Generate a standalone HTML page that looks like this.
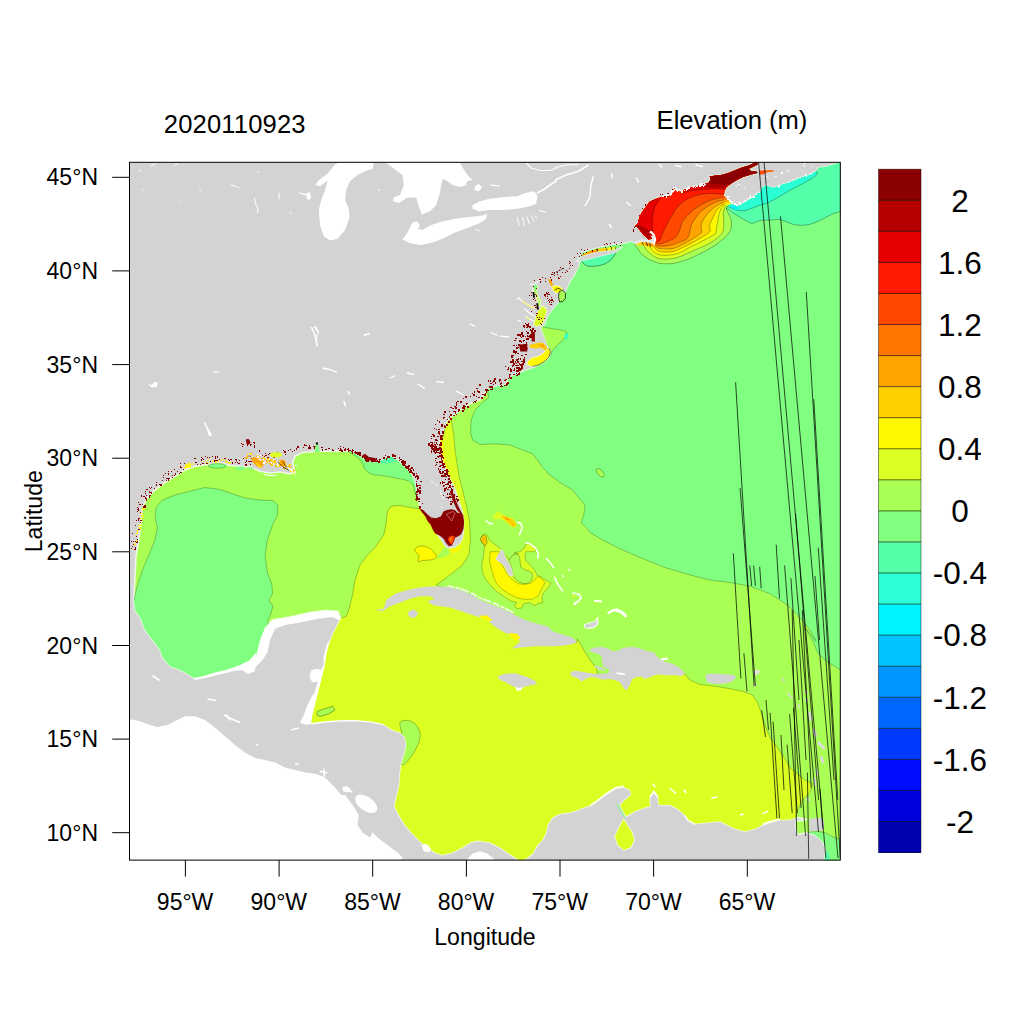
<!DOCTYPE html>
<html><head><meta charset="utf-8"><title>Elevation map</title>
<style>
html,body{margin:0;padding:0;background:#fff;}
body{width:1024px;height:1024px;overflow:hidden;}
svg{display:block;}
text{font-family:"Liberation Sans",sans-serif;fill:#000;}
</style></head><body>
<svg width="1024" height="1024" viewBox="0 0 1024 1024">
<rect width="1024" height="1024" fill="#fff"/>
<defs><clipPath id="fc"><rect x="129.5" y="162.3" width="710.8" height="697.8499999999999"/></clipPath></defs>
<g clip-path="url(#fc)">
<!-- 00_base.py -->
<rect x="120" y="150" width="730" height="720" fill="#fff"/>
<!-- 10_ocean.py -->
<defs><clipPath id="oc"><polygon points="133.8,600.0 135.0,575.0 136.2,555.0 138.8,540.0 141.2,520.0 142.5,507.5 147.5,497.5 155.0,490.0 165.0,482.5 175.0,476.2 185.0,470.0 195.0,466.2 207.5,464.5 220.0,462.5 230.0,465.5 240.0,466.2 250.0,467.0 260.0,471.2 270.0,473.0 280.0,472.0 290.0,473.8 295.0,472.5 292.5,462.5 295.0,456.2 302.5,452.5 317.5,451.2 332.5,451.2 347.5,451.2 340.0,450.0 350.0,451.2 360.0,456.2 367.5,461.2 375.0,462.5 382.5,460.0 390.0,456.2 397.5,460.0 405.0,467.5 411.2,473.8 415.0,482.5 416.2,491.2 418.8,500.0 420.0,507.5 423.8,513.8 428.8,520.0 432.5,527.5 436.2,533.8 440.0,538.8 443.8,545.0 447.5,548.8 455.0,547.5 460.0,543.8 463.0,538.8 464.2,530.0 464.2,520.0 462.5,510.0 460.0,502.5 457.5,495.0 455.0,487.5 451.2,480.0 447.5,472.5 443.8,462.5 441.2,452.5 440.0,442.5 442.5,432.5 446.2,423.8 450.0,417.5 457.5,412.5 465.0,406.2 475.0,401.2 480.0,400.0 485.0,392.5 488.8,388.8 497.5,386.2 505.0,385.0 510.0,377.5 517.5,373.8 527.5,370.0 535.0,367.5 543.8,362.5 550.0,357.5 551.2,351.2 547.5,345.0 543.8,335.0 541.2,327.5 545.0,325.0 547.5,317.5 552.5,310.0 558.8,302.5 563.8,298.8 566.2,291.2 570.0,282.5 575.0,275.0 578.8,267.5 580.0,262.5 581.2,258.8 577.2,261.2 580.5,256.2 582.0,253.0 591.0,249.8 601.0,247.2 613.5,245.0 623.5,244.0 631.0,241.8 636.0,243.8 638.5,242.5 646.0,241.2 652.2,242.5 654.8,246.2 655.5,242.5 653.5,236.2 649.8,234.5 652.2,238.8 648.5,239.5 643.5,235.0 638.5,228.8 636.0,226.2 634.4,227.0 638.5,222.2 639.1,217.4 641.9,212.0 646.0,206.5 649.4,201.7 655.5,199.0 661.0,196.9 666.5,195.8 670.6,194.9 672.6,190.8 674.7,188.0 677.4,190.8 680.2,192.1 684.3,189.4 688.4,188.0 693.8,186.7 699.3,185.3 704.8,183.9 708.9,182.6 710.9,179.1 709.6,176.4 714.3,175.7 721.2,175.0 728.0,173.0 734.8,170.3 741.7,167.5 748.5,165.5 754.0,163.0 756.7,161.4 758.4,161.4 757.4,164.8 753.3,166.8 748.5,168.9 751.3,170.9 756.7,171.6 758.1,173.0 751.3,174.4 743.1,177.1 736.2,180.5 730.7,183.9 726.6,187.3 724.6,190.8 723.9,194.9 726.0,198.3 729.4,201.0 731.4,203.8 737.5,206.1 745.3,202.2 753.1,196.7 760.9,191.2 761.7,187.3 767.2,185.8 773.4,188.1 781.2,185.0 790.6,181.9 800.0,178.0 809.4,174.8 815.6,171.7 818.8,167.8 825.0,167.0 832.8,164.7 841.4,162.2 850.0,163.0 850.0,870.0 823.8,863.8 826.2,850.0 822.5,841.2 815.0,835.0 807.5,832.5 797.5,834.5 795.5,827.5 795.5,821.2 805.0,820.0 806.5,819.2 797.5,817.5 790.0,819.5 780.0,820.0 770.0,822.5 762.5,825.0 755.0,828.8 745.0,831.2 735.0,828.8 727.5,825.0 720.0,821.2 707.5,822.5 695.0,823.8 687.5,820.0 685.0,815.0 677.5,808.8 670.0,805.0 658.8,805.0 658.0,797.5 653.8,792.0 649.5,797.5 650.0,806.2 645.0,807.5 635.0,811.2 626.2,816.2 623.8,812.5 620.0,805.0 625.0,800.0 631.2,795.0 630.0,790.0 623.8,787.0 615.0,788.8 605.0,795.0 597.5,801.2 590.0,806.2 587.5,806.2 577.5,810.0 570.0,812.5 560.0,813.8 552.5,817.5 547.5,825.0 546.2,832.5 542.5,840.0 537.5,845.0 532.5,853.8 525.0,859.5 520.0,860.5 515.0,857.5 507.5,852.5 500.0,847.5 490.0,842.5 477.5,840.5 470.0,842.5 462.5,847.5 452.5,852.5 442.5,855.0 435.0,852.5 427.5,847.5 420.0,841.2 412.5,833.8 405.0,825.0 398.8,815.0 394.5,806.2 397.0,795.0 399.5,785.0 400.0,775.0 401.2,765.0 403.8,756.2 406.2,747.5 405.5,737.5 400.0,732.5 392.5,730.0 382.5,723.8 370.0,721.2 355.0,720.0 340.0,720.0 325.0,721.2 311.2,723.0 312.5,715.0 315.0,705.0 317.5,695.0 320.0,685.0 322.5,675.0 325.0,665.0 326.2,655.0 328.8,645.0 332.5,635.0 340.0,620.0 341.2,617.5 337.5,611.2 325.0,610.5 310.0,612.5 290.0,617.0 272.5,620.0 265.0,627.5 260.0,640.0 256.2,656.0 256.2,652.5 250.0,660.0 240.0,665.0 227.5,669.5 215.0,672.5 202.5,676.2 193.8,678.0 187.5,673.8 180.0,670.0 170.0,666.2 162.5,657.5 160.0,650.0 152.5,640.0 145.0,630.0 141.2,620.0 140.0,617.5 135.0,610.0"/></clipPath></defs>
<rect x="120" y="150" width="730" height="720" fill="#D3D3D3"/>
<polygon points="193.8,678.5 195.0,680.0 205.0,678.0 220.0,674.5 232.5,671.2 242.5,670.0 247.5,673.8 253.8,671.2 256.2,666.2 262.5,660.0 267.5,652.5 270.0,640.0 275.0,628.8 285.0,625.0 300.0,622.5 317.5,618.8 332.5,617.0 337.5,619.5 339.5,620.5 339.0,620.0 338.0,627.5 332.5,636.8 327.0,643.8 325.2,650.0 323.5,657.5 323.8,665.0 321.0,670.0 317.5,668.8 311.2,670.0 309.5,677.5 312.5,682.5 318.0,681.5 316.5,685.5 314.8,692.5 312.0,696.2 307.5,705.0 303.8,715.0 300.0,722.5 306.2,725.0 311.2,724.0 330.0,715.0 347.0,640.0 342.0,604.0 262.0,606.0 250.0,650.0 215.0,668.0" fill="#fff" /><polyline points="311.2,723.8 325.0,722.2 340.0,721.0 355.0,719.8 370.0,721.0 340.0,720.8 355.0,720.8 370.0,722.0 382.5,724.5" fill="none" stroke="#fff" stroke-width="1.2" />
<polygon points="133.8,600.0 135.0,575.0 136.2,555.0 138.8,540.0 141.2,520.0 142.5,507.5 147.5,497.5 155.0,490.0 165.0,482.5 175.0,476.2 185.0,470.0 195.0,466.2 207.5,464.5 220.0,462.5 230.0,465.5 240.0,466.2 250.0,467.0 260.0,471.2 270.0,473.0 280.0,472.0 290.0,473.8 295.0,472.5 292.5,462.5 295.0,456.2 302.5,452.5 317.5,451.2 332.5,451.2 347.5,451.2 340.0,450.0 350.0,451.2 360.0,456.2 367.5,461.2 375.0,462.5 382.5,460.0 390.0,456.2 397.5,460.0 405.0,467.5 411.2,473.8 415.0,482.5 416.2,491.2 418.8,500.0 420.0,507.5 423.8,513.8 428.8,520.0 432.5,527.5 436.2,533.8 440.0,538.8 443.8,545.0 447.5,548.8 455.0,547.5 460.0,543.8 463.0,538.8 464.2,530.0 464.2,520.0 462.5,510.0 460.0,502.5 457.5,495.0 455.0,487.5 451.2,480.0 447.5,472.5 443.8,462.5 441.2,452.5 440.0,442.5 442.5,432.5 446.2,423.8 450.0,417.5 457.5,412.5 465.0,406.2 475.0,401.2 480.0,400.0 485.0,392.5 488.8,388.8 497.5,386.2 505.0,385.0 510.0,377.5 517.5,373.8 527.5,370.0 535.0,367.5 543.8,362.5 550.0,357.5 551.2,351.2 547.5,345.0 543.8,335.0 541.2,327.5 545.0,325.0 547.5,317.5 552.5,310.0 558.8,302.5 563.8,298.8 566.2,291.2 570.0,282.5 575.0,275.0 578.8,267.5 580.0,262.5 581.2,258.8 577.2,261.2 580.5,256.2 582.0,253.0 591.0,249.8 601.0,247.2 613.5,245.0 623.5,244.0 631.0,241.8 636.0,243.8 638.5,242.5 646.0,241.2 652.2,242.5 654.8,246.2 655.5,242.5 653.5,236.2 649.8,234.5 652.2,238.8 648.5,239.5 643.5,235.0 638.5,228.8 636.0,226.2 634.4,227.0 638.5,222.2 639.1,217.4 641.9,212.0 646.0,206.5 649.4,201.7 655.5,199.0 661.0,196.9 666.5,195.8 670.6,194.9 672.6,190.8 674.7,188.0 677.4,190.8 680.2,192.1 684.3,189.4 688.4,188.0 693.8,186.7 699.3,185.3 704.8,183.9 708.9,182.6 710.9,179.1 709.6,176.4 714.3,175.7 721.2,175.0 728.0,173.0 734.8,170.3 741.7,167.5 748.5,165.5 754.0,163.0 756.7,161.4 758.4,161.4 757.4,164.8 753.3,166.8 748.5,168.9 751.3,170.9 756.7,171.6 758.1,173.0 751.3,174.4 743.1,177.1 736.2,180.5 730.7,183.9 726.6,187.3 724.6,190.8 723.9,194.9 726.0,198.3 729.4,201.0 731.4,203.8 737.5,206.1 745.3,202.2 753.1,196.7 760.9,191.2 761.7,187.3 767.2,185.8 773.4,188.1 781.2,185.0 790.6,181.9 800.0,178.0 809.4,174.8 815.6,171.7 818.8,167.8 825.0,167.0 832.8,164.7 841.4,162.2 850.0,163.0 850.0,870.0 823.8,863.8 826.2,850.0 822.5,841.2 815.0,835.0 807.5,832.5 797.5,834.5 795.5,827.5 795.5,821.2 805.0,820.0 806.5,819.2 797.5,817.5 790.0,819.5 780.0,820.0 770.0,822.5 762.5,825.0 755.0,828.8 745.0,831.2 735.0,828.8 727.5,825.0 720.0,821.2 707.5,822.5 695.0,823.8 687.5,820.0 685.0,815.0 677.5,808.8 670.0,805.0 658.8,805.0 658.0,797.5 653.8,792.0 649.5,797.5 650.0,806.2 645.0,807.5 635.0,811.2 626.2,816.2 623.8,812.5 620.0,805.0 625.0,800.0 631.2,795.0 630.0,790.0 623.8,787.0 615.0,788.8 605.0,795.0 597.5,801.2 590.0,806.2 587.5,806.2 577.5,810.0 570.0,812.5 560.0,813.8 552.5,817.5 547.5,825.0 546.2,832.5 542.5,840.0 537.5,845.0 532.5,853.8 525.0,859.5 520.0,860.5 515.0,857.5 507.5,852.5 500.0,847.5 490.0,842.5 477.5,840.5 470.0,842.5 462.5,847.5 452.5,852.5 442.5,855.0 435.0,852.5 427.5,847.5 420.0,841.2 412.5,833.8 405.0,825.0 398.8,815.0 394.5,806.2 397.0,795.0 399.5,785.0 400.0,775.0 401.2,765.0 403.8,756.2 406.2,747.5 405.5,737.5 400.0,732.5 392.5,730.0 382.5,723.8 370.0,721.2 355.0,720.0 340.0,720.0 325.0,721.2 311.2,723.0 312.5,715.0 315.0,705.0 317.5,695.0 320.0,685.0 322.5,675.0 325.0,665.0 326.2,655.0 328.8,645.0 332.5,635.0 340.0,620.0 341.2,617.5 337.5,611.2 325.0,610.5 310.0,612.5 290.0,617.0 272.5,620.0 265.0,627.5 260.0,640.0 256.2,656.0 256.2,652.5 250.0,660.0 240.0,665.0 227.5,669.5 215.0,672.5 202.5,676.2 193.8,678.0 187.5,673.8 180.0,670.0 170.0,666.2 162.5,657.5 160.0,650.0 152.5,640.0 145.0,630.0 141.2,620.0 140.0,617.5 135.0,610.0" fill="#AAFF55" stroke="#fff" stroke-width="1.6" stroke-opacity="0.75" stroke-linejoin="round"/>
<g clip-path="url(#oc)">
<polygon points="487.5,390.0 488.8,397.5 482.5,402.5 475.0,410.0 471.2,420.0 470.5,432.5 472.5,440.0 480.0,444.5 495.0,443.8 510.0,445.0 522.5,450.0 532.5,453.8 537.5,460.0 542.5,467.5 550.0,475.0 560.0,482.5 572.5,490.0 585.0,505.0 583.8,515.0 581.2,522.5 587.5,528.8 590.0,532.5 602.5,540.0 620.0,548.8 640.0,557.5 665.0,567.5 690.0,575.0 710.0,580.0 730.0,582.5 750.0,586.2 770.0,593.8 787.5,605.0 800.0,617.5 810.0,630.0 816.2,641.2 805.0,627.5 812.5,640.0 817.5,652.5 825.0,660.0 832.5,665.0 842.5,671.2 870.0,672.0 870.0,140.0 540.0,140.0 470.0,380.0" fill="#80FF80" stroke="#1a3a00" stroke-opacity="0.65" stroke-width="0.45"/>
<polygon points="133.8,600.0 137.5,585.0 142.5,570.0 148.8,555.0 155.0,540.0 157.5,527.5 155.0,517.5 156.2,507.5 162.5,500.0 175.0,495.0 190.0,491.2 205.0,487.5 220.0,489.5 232.5,493.8 245.0,498.0 260.0,500.0 272.5,500.5 278.0,505.0 277.5,515.0 272.5,525.0 267.5,540.0 265.0,555.0 267.5,572.5 272.0,585.0 272.5,593.8 268.8,600.0 273.0,606.2 270.0,616.2 267.5,621.2 275.0,640.0 275.0,700.0 118.0,700.0 118.0,600.0" fill="#80FF80" stroke="#1a3a00" stroke-opacity="0.65" stroke-width="0.45"/>
<polygon points="342.5,618.0 346.2,616.2 348.8,610.0 352.5,595.0 355.0,580.0 360.0,565.0 367.5,555.0 375.0,547.5 383.8,535.0 386.2,522.5 387.5,511.2 391.2,506.2 400.0,505.5 410.0,507.5 418.8,508.8 435.0,475.0 446.2,422.5 451.2,418.8 453.8,435.0 455.0,450.0 458.8,475.0 465.0,500.0 469.5,520.0 470.5,540.0 468.8,555.0 462.5,565.0 450.0,575.0 436.2,585.0 465.0,597.5 490.0,612.5 515.0,625.0 540.0,635.0 565.0,641.2 576.2,643.0 577.5,638.8 583.8,650.0 590.0,660.0 593.8,665.0 596.0,666.2 597.5,673.8 627.5,677.0 652.5,670.0 685.0,673.8 690.0,680.0 700.0,684.5 710.0,685.5 720.0,687.0 730.0,688.8 742.5,691.2 752.5,695.0 757.5,702.5 761.2,712.5 765.0,725.0 770.0,737.5 777.5,747.5 785.0,758.8 790.0,767.5 797.5,773.8 805.0,780.0 812.5,783.8 810.0,792.5 802.5,800.0 797.5,810.0 795.0,820.0 795.0,880.0 300.0,880.0 300.0,730.0 308.0,700.0 318.0,660.0 327.0,630.0 337.0,612.0" fill="#DCFF23" stroke="#1a3a00" stroke-opacity="0.65" stroke-width="0.45"/>
<polygon points="807.5,832.5 815.0,831.2 825.0,832.5 833.8,837.5 842.5,840.0 842.5,863.8 805.0,863.8" fill="#80FF80" stroke="#1a3a00" stroke-opacity="0.65" stroke-width="0.45"/>
<polygon points="348.8,452.0 354.6,455.4 359.5,459.3 362.9,464.2 364.4,469.1 369.3,473.0 374.2,474.9 381.0,475.4 386.9,476.4 394.7,477.9 402.5,479.3 408.4,480.8 412.3,483.7 414.2,488.6 414.7,492.5 417.1,497.4 420.1,493.5 418.1,484.7 414.2,475.9 408.4,469.1 400.5,462.2 394.7,456.4 388.8,454.4 382.0,457.3 377.1,461.2 371.2,462.2 365.4,459.3 359.5,454.4 353.7,451.0 349.8,450.0" fill="#80FF80" stroke="#1a3a00" stroke-width="0.4" stroke-opacity="0.7"/>
<polygon points="379.1,462.7 383.9,459.3 387.9,457.8 391.3,456.6 395.2,458.8 396.2,461.4 390.8,462.4 384.9,463.2" fill="#55FFAA" />
<polygon points="415.2,493.5 417.1,497.4 419.6,501.3 421.1,498.4 418.1,494.5" fill="#55FFAA" />
<path d="M537.5,325.0 C538.1,324.5 541.2,326.4 543.8,327.0 C546.2,327.6 549.4,328.2 552.5,328.8 C555.6,329.3 560.1,329.8 562.5,330.5 C564.9,331.2 566.8,331.6 567.0,333.0 C567.2,334.4 565.3,336.8 563.8,338.8 C562.2,340.8 559.5,342.9 557.5,345.0 C555.5,347.1 553.2,349.5 552.0,351.2 C550.8,353.0 551.2,357.4 550.0,355.5 C548.8,353.6 546.7,344.2 545.0,340.0 C543.3,335.8 541.2,332.5 540.0,330.0 C538.8,327.5 536.9,325.5 537.5,325.0Z" fill="#AAFF55" stroke="#1a3a00" stroke-opacity="0.7" stroke-width="0.45"/>
<polygon points="565.0,333.0 568.0,334.5 567.0,339.5 564.5,338.0" fill="#2BFFD4" />
<polygon points="438.8,437.5 442.0,435.0 443.0,445.0 444.5,457.5 447.5,470.0 451.2,478.8 450.0,480.0 446.2,472.5 442.5,462.5 440.5,450.0" fill="#FFF800" />
<path d="M416.2,547.5 C417.5,546.6 420.2,545.8 422.5,546.0 C424.8,546.2 427.9,547.2 430.0,548.5 C432.1,549.8 433.9,552.0 435.0,553.5 C436.1,555.0 437.3,556.4 436.5,557.5 C435.7,558.6 432.3,559.5 430.0,560.0 C427.7,560.5 424.5,560.2 422.5,560.5 C420.5,560.8 418.6,562.3 418.0,561.5 C417.4,560.7 419.5,557.2 419.0,555.5 C418.5,553.8 415.5,552.8 415.0,551.5 C414.5,550.2 415.0,548.4 416.2,547.5Z" fill="#FFF800" stroke="#1a3a00" stroke-opacity="0.7" stroke-width="0.45"/>
<polygon points="436.2,558.0 442.5,550.0 445.0,546.2 448.0,549.5 450.0,553.0 446.2,556.2 440.0,558.0" fill="#AAFF55" />
<polygon points="450.0,550.0 457.5,547.5 461.2,544.5 460.0,550.0 453.8,553.0" fill="#FFF800" />
<polygon points="480.2,539.2 484.1,533.8 487.2,535.3 489.5,540.0 495.0,544.7 500.5,548.6 503.6,552.5 509.1,560.3 513.8,554.1 518.4,554.1 514.5,552.5 520.0,551.7 523.9,548.6 526.2,543.9 530.2,543.9 534.1,547.0 537.2,550.2 532.5,551.7 526.2,551.7 524.7,555.6 525.5,560.3 530.2,565.0 534.1,569.7 537.2,575.2 541.9,577.5 546.6,580.6 551.2,583.0 548.1,587.7 543.4,593.1 541.9,597.8 542.7,602.5 538.8,603.3 534.1,605.6 529.4,602.5 523.1,604.1 521.6,608.0 516.9,608.8 514.5,605.6 516.9,602.5 510.6,600.9 503.6,596.2 496.6,591.6 490.3,585.3 485.6,579.1 482.5,572.8 481.7,565.0 483.3,557.2 484.1,549.4 484.8,544.7 481.7,542.3" fill="#DCFF23" stroke="#1a3a00" stroke-width="0.4" stroke-opacity="0.7"/>
<path d="M513.0,575.2 C512.1,572.9 512.1,569.0 511.4,566.6 C510.8,564.1 508.7,562.3 509.1,560.3 C509.5,558.4 512.2,555.8 513.8,554.8 C515.3,553.9 517.4,553.9 518.4,554.8 C519.5,555.8 519.6,558.4 520.0,560.3 C520.4,562.3 520.0,565.0 520.8,566.6 C521.6,568.1 523.0,568.8 524.7,569.7 C526.4,570.6 529.6,570.9 530.9,572.0 C532.2,573.2 532.8,575.0 532.5,576.7 C532.2,578.4 530.9,581.1 529.4,582.2 C527.8,583.3 525.2,583.8 523.1,583.4 C521.0,583.1 518.6,581.7 516.9,580.3 C515.2,578.9 513.9,577.4 513.0,575.2Z" fill="#AAFF55" stroke="#1a3a00" stroke-opacity="0.7" stroke-width="0.45"/>
<polygon points="490.3,551.7 499.7,551.7 496.6,558.8 501.2,563.4 507.5,574.4 512.2,579.8 518.4,583.8 524.7,584.5 530.9,583.0 535.6,579.1 538.0,575.9 542.7,579.8 545.0,583.0 542.7,586.9 540.3,591.6 538.0,596.2 532.5,599.1 524.7,599.4 516.9,597.8 509.1,593.9 502.0,589.2 496.6,583.8 493.4,575.9 491.1,568.1 489.5,560.3" fill="#FFF800" stroke="#1a3a00" stroke-width="0.4" stroke-opacity="0.7"/>
<polygon points="480.2,539.2 483.3,534.5 486.4,536.9 486.9,543.1 484.8,546.2 482.5,543.1" fill="#FFD000" stroke="#1a3a00" stroke-width="0.4" />
<polygon points="482.2,538.8 483.8,536.9 485.0,539.2 483.8,541.2" fill="#FFA400" />
<polygon points="492.7,516.6 498.1,511.1 501.2,513.4 505.9,516.6 512.2,518.1 516.1,522.8 516.9,526.7 512.2,527.5 507.5,523.6 502.8,519.7 497.3,518.9 493.4,518.9" fill="#DCFF23" />
<polygon points="502.0,515.0 506.7,516.9 512.2,518.9 515.6,523.1 516.1,526.2 512.5,526.9 509.1,523.6 505.2,520.0 502.0,518.1" fill="#FFD000" />
<polygon points="503.6,516.9 507.5,517.8 509.8,519.7 506.7,520.0" fill="#FFA400" />
<path d="M400.0,722.5 C400.9,720.1 405.0,720.3 407.5,720.5 C410.0,720.7 412.9,721.8 415.0,723.8 C417.1,725.8 419.4,729.4 420.0,732.5 C420.6,735.6 419.8,739.2 418.8,742.5 C417.7,745.8 415.6,749.4 413.8,752.5 C411.9,755.6 409.4,759.2 407.5,761.2 C405.6,763.3 404.0,765.2 402.5,765.0 C401.0,764.8 398.8,762.9 398.8,760.0 C398.8,757.1 402.0,751.7 402.5,747.5 C403.0,743.3 402.4,739.2 402.0,735.0 C401.6,730.8 399.1,724.9 400.0,722.5Z" fill="#AAFF55" stroke="#1a3a00" stroke-opacity="0.7" stroke-width="0.45"/>
<polygon points="317.5,711.2 325.0,708.8 332.5,706.2 335.0,710.0 328.8,713.8 320.0,716.5 317.0,715.0" fill="#AAFF55" stroke="#1a3a00" stroke-width="0.4" />
<ellipse cx="600.2" cy="472.8" rx="5.2" ry="2.6" transform="rotate(50 600.2 472.8)" fill="#AAFF55" stroke="#1a3a00" stroke-opacity="0.7" stroke-width="0.45"/>
<polygon points="823.8,852.5 827.5,851.2 830.0,856.2 828.8,860.5 823.8,860.5" fill="#55FFAA" />
<path d="M723.4,206.9 C724.1,207.2 725.5,207.6 727.3,208.8 C729.2,209.9 731.6,212.1 734.4,213.9 C737.1,215.7 740.9,217.8 743.8,219.4 C746.6,220.9 749.5,222.9 751.6,223.3 C753.6,223.7 754.4,222.2 756.2,221.7 C758.1,221.2 760.2,220.4 762.5,220.2 C764.8,219.9 767.7,220.3 770.3,220.2 C772.9,220.0 775.8,219.2 778.1,219.4 C780.5,219.5 782.0,220.2 784.4,220.9 C786.7,221.7 789.3,223.3 792.2,224.1 C795.1,224.8 798.7,225.3 801.6,225.3 C804.4,225.4 806.8,225.0 809.4,224.4 C812.0,223.8 814.6,222.8 817.2,221.7 C819.8,220.6 822.4,219.1 825.0,217.8 C827.6,216.5 830.1,215.0 832.8,213.9 C835.5,212.8 840.0,211.7 841.4,211.2 L850,150 L720,150 L722,200Z" fill="#55FFAA"/>
<path d="M723.4,206.9 C724.1,207.2 725.5,207.6 727.3,208.8 C729.2,209.9 731.6,212.1 734.4,213.9 C737.1,215.7 740.9,217.8 743.8,219.4 C746.6,220.9 749.5,222.9 751.6,223.3 C753.6,223.7 754.4,222.2 756.2,221.7 C758.1,221.2 760.2,220.4 762.5,220.2 C764.8,219.9 767.7,220.3 770.3,220.2 C772.9,220.0 775.8,219.2 778.1,219.4 C780.5,219.5 782.0,220.2 784.4,220.9 C786.7,221.7 789.3,223.3 792.2,224.1 C795.1,224.8 798.7,225.3 801.6,225.3 C804.4,225.4 806.8,225.0 809.4,224.4 C812.0,223.8 814.6,222.8 817.2,221.7 C819.8,220.6 822.4,219.1 825.0,217.8 C827.6,216.5 830.1,215.0 832.8,213.9 C835.5,212.8 840.0,211.7 841.4,211.2" fill="none" stroke="#000" stroke-opacity="0.75" stroke-width="0.4"/>
<path d="M727.3,206.6 C727.7,206.7 728.3,206.6 729.7,207.2 C731.1,207.8 733.6,209.4 735.9,210.0 C738.3,210.6 741.1,211.0 743.8,210.8 C746.4,210.5 749.0,209.3 751.6,208.4 C754.2,207.5 756.8,206.2 759.4,205.3 C762.0,204.4 764.6,204.0 767.2,203.0 C769.8,201.9 772.1,200.6 775.0,199.1 C777.9,197.5 781.2,195.4 784.4,193.6 C787.5,191.8 790.6,189.8 793.8,188.1 C796.9,186.4 800.0,185.1 803.1,183.4 C806.2,181.7 810.2,179.5 812.5,178.0 C814.8,176.4 816.5,175.2 817.2,174.1 C817.8,172.9 816.5,171.5 816.4,170.9 L770,160 L725,170Z" fill="#2BFFD4"/>
<path d="M727.3,206.6 C727.7,206.7 728.3,206.6 729.7,207.2 C731.1,207.8 733.6,209.4 735.9,210.0 C738.3,210.6 741.1,211.0 743.8,210.8 C746.4,210.5 749.0,209.3 751.6,208.4 C754.2,207.5 756.8,206.2 759.4,205.3 C762.0,204.4 764.6,204.0 767.2,203.0 C769.8,201.9 772.1,200.6 775.0,199.1 C777.9,197.5 781.2,195.4 784.4,193.6 C787.5,191.8 790.6,189.8 793.8,188.1 C796.9,186.4 800.0,185.1 803.1,183.4 C806.2,181.7 810.2,179.5 812.5,178.0 C814.8,176.4 816.5,175.2 817.2,174.1 C817.8,172.9 816.5,171.5 816.4,170.9" fill="none" stroke="#000" stroke-opacity="0.75" stroke-width="0.4"/>
<polygon points="731.2,205.6 736.7,206.6 739.1,208.4 735.2,209.7 731.2,207.7" fill="#00F4FF" />
<path d="M634.4,244.1 C634.9,244.9 636.5,247.2 637.8,248.9 C639.0,250.6 640.1,252.6 641.9,254.3 C643.7,256.0 646.2,257.8 648.7,259.1 C651.2,260.5 655.0,261.8 656.9,262.5 C658.8,263.3 658.2,263.2 660.0,263.4 C661.8,263.7 665.2,263.9 667.8,263.8 C670.4,263.8 673.0,263.6 675.6,263.0 C678.2,262.5 680.8,261.5 683.4,260.7 C686.0,259.9 688.6,259.1 691.2,258.0 C693.9,256.9 696.5,255.4 699.1,254.1 C701.7,252.8 704.3,251.6 706.9,250.2 C709.5,248.7 712.3,247.0 714.7,245.5 C717.0,243.9 719.0,242.3 720.9,240.8 C722.9,239.2 724.8,237.8 726.4,236.1 C728.0,234.4 729.5,232.4 730.3,230.6 C731.2,228.8 731.4,227.0 731.5,225.2 C731.6,223.3 731.5,221.4 731.1,219.7 C730.7,218.0 729.8,216.4 729.1,215.0 C728.5,213.6 727.6,212.3 727.2,211.1 C726.7,209.9 726.3,208.9 726.4,208.0 C726.5,207.1 727.7,206.0 728.0,205.6 L738.0,200.0 L752.0,182.0 L765.0,150.0 L628.0,150.0 L630.0,236.0Z" fill="#AAFF55"/>
<path d="M634.4,244.1 C634.9,244.9 636.5,247.2 637.8,248.9 C639.0,250.6 640.1,252.6 641.9,254.3 C643.7,256.0 646.2,257.8 648.7,259.1 C651.2,260.5 655.0,261.8 656.9,262.5 C658.8,263.3 658.2,263.2 660.0,263.4 C661.8,263.7 665.2,263.9 667.8,263.8 C670.4,263.8 673.0,263.6 675.6,263.0 C678.2,262.5 680.8,261.5 683.4,260.7 C686.0,259.9 688.6,259.1 691.2,258.0 C693.9,256.9 696.5,255.4 699.1,254.1 C701.7,252.8 704.3,251.6 706.9,250.2 C709.5,248.7 712.3,247.0 714.7,245.5 C717.0,243.9 719.0,242.3 720.9,240.8 C722.9,239.2 724.8,237.8 726.4,236.1 C728.0,234.4 729.5,232.4 730.3,230.6 C731.2,228.8 731.4,227.0 731.5,225.2 C731.6,223.3 731.5,221.4 731.1,219.7 C730.7,218.0 729.8,216.4 729.1,215.0 C728.5,213.6 727.6,212.3 727.2,211.1 C726.7,209.9 726.3,208.9 726.4,208.0 C726.5,207.1 727.7,206.0 728.0,205.6" fill="none" stroke="#000" stroke-opacity="0.75" stroke-width="0.4"/>
<path d="M643.9,245.5 C644.5,246.4 645.6,249.1 647.3,250.9 C649.1,252.7 652.1,255.1 654.2,256.4 C656.3,257.7 657.7,258.3 660.0,258.8 C662.3,259.2 665.2,259.3 667.8,259.1 C670.4,259.0 673.0,258.6 675.6,258.0 C678.2,257.3 680.8,256.3 683.4,255.2 C686.0,254.2 688.6,252.9 691.2,251.7 C693.9,250.5 696.5,249.4 699.1,248.2 C701.7,247.0 704.3,246.1 706.9,244.7 C709.5,243.3 712.5,241.6 714.7,240.0 C716.9,238.4 718.7,236.9 720.2,235.3 C721.6,233.8 722.7,232.3 723.3,230.6 C723.9,228.9 723.6,227.0 723.7,225.2 C723.7,223.3 723.7,221.5 723.7,219.7 C723.6,217.9 723.2,215.9 723.3,214.2 C723.3,212.5 723.5,210.9 724.1,209.5 C724.6,208.2 726.0,206.6 726.4,206.0 L738.0,200.0 L752.0,182.0 L765.0,150.0 L628.0,150.0 L630.0,236.0Z" fill="#DCFF23"/>
<path d="M643.9,245.5 C644.5,246.4 645.6,249.1 647.3,250.9 C649.1,252.7 652.1,255.1 654.2,256.4 C656.3,257.7 657.7,258.3 660.0,258.8 C662.3,259.2 665.2,259.3 667.8,259.1 C670.4,259.0 673.0,258.6 675.6,258.0 C678.2,257.3 680.8,256.3 683.4,255.2 C686.0,254.2 688.6,252.9 691.2,251.7 C693.9,250.5 696.5,249.4 699.1,248.2 C701.7,247.0 704.3,246.1 706.9,244.7 C709.5,243.3 712.5,241.6 714.7,240.0 C716.9,238.4 718.7,236.9 720.2,235.3 C721.6,233.8 722.7,232.3 723.3,230.6 C723.9,228.9 723.6,227.0 723.7,225.2 C723.7,223.3 723.7,221.5 723.7,219.7 C723.6,217.9 723.2,215.9 723.3,214.2 C723.3,212.5 723.5,210.9 724.1,209.5 C724.6,208.2 726.0,206.6 726.4,206.0" fill="none" stroke="#000" stroke-opacity="0.75" stroke-width="0.4"/>
<path d="M649.4,245.5 C649.9,246.3 651.1,249.0 652.1,250.2 C653.2,251.5 654.2,252.2 655.5,253.0 C656.9,253.7 658.0,254.5 660.0,254.8 C662.0,255.2 665.2,255.4 667.8,255.2 C670.4,255.1 673.3,254.6 675.6,254.1 C678.0,253.5 679.8,252.7 681.9,251.7 C684.0,250.7 685.9,249.4 688.1,248.2 C690.3,247.0 692.7,245.9 695.2,244.7 C697.6,243.5 700.4,242.1 703.0,240.8 C705.6,239.4 708.6,237.8 710.8,236.5 C712.9,235.2 714.9,234.3 715.9,233.0 C716.8,231.6 716.0,229.8 716.2,228.3 C716.5,226.7 717.1,225.3 717.4,223.6 C717.7,221.9 717.9,219.9 718.2,218.1 C718.5,216.3 718.8,214.3 719.4,212.7 C720.0,211.0 720.7,209.3 721.7,208.0 C722.8,206.7 725.0,205.4 725.6,204.8 L738.0,200.0 L752.0,182.0 L765.0,150.0 L628.0,150.0 L630.0,236.0Z" fill="#FFF800"/>
<path d="M649.4,245.5 C649.9,246.3 651.1,249.0 652.1,250.2 C653.2,251.5 654.2,252.2 655.5,253.0 C656.9,253.7 658.0,254.5 660.0,254.8 C662.0,255.2 665.2,255.4 667.8,255.2 C670.4,255.1 673.3,254.6 675.6,254.1 C678.0,253.5 679.8,252.7 681.9,251.7 C684.0,250.7 685.9,249.4 688.1,248.2 C690.3,247.0 692.7,245.9 695.2,244.7 C697.6,243.5 700.4,242.1 703.0,240.8 C705.6,239.4 708.6,237.8 710.8,236.5 C712.9,235.2 714.9,234.3 715.9,233.0 C716.8,231.6 716.0,229.8 716.2,228.3 C716.5,226.7 717.1,225.3 717.4,223.6 C717.7,221.9 717.9,219.9 718.2,218.1 C718.5,216.3 718.8,214.3 719.4,212.7 C720.0,211.0 720.7,209.3 721.7,208.0 C722.8,206.7 725.0,205.4 725.6,204.8" fill="none" stroke="#000" stroke-opacity="0.75" stroke-width="0.4"/>
<path d="M652.8,246.1 C653.4,246.7 655.0,248.6 656.2,249.6 C657.4,250.5 658.1,251.3 660.0,251.7 C661.9,252.1 665.2,252.2 667.8,252.1 C670.4,252.0 673.3,251.7 675.6,250.9 C678.0,250.2 679.7,248.9 681.9,247.8 C684.1,246.8 686.6,245.9 688.9,244.7 C691.2,243.5 693.5,242.2 695.9,240.8 C698.4,239.3 701.4,237.7 703.8,236.1 C706.1,234.5 709.0,233.0 710.0,231.4 C711.0,229.8 709.5,228.3 709.6,226.7 C709.7,225.2 710.1,223.7 710.8,222.0 C711.4,220.3 712.6,218.4 713.5,216.6 C714.4,214.7 715.1,212.8 716.2,211.1 C717.4,209.4 718.7,207.6 720.2,206.4 C721.6,205.2 724.1,204.1 724.8,203.7 L738.0,200.0 L752.0,182.0 L765.0,150.0 L628.0,150.0 L630.0,236.0Z" fill="#FFD000"/>
<path d="M652.8,246.1 C653.4,246.7 655.0,248.6 656.2,249.6 C657.4,250.5 658.1,251.3 660.0,251.7 C661.9,252.1 665.2,252.2 667.8,252.1 C670.4,252.0 673.3,251.7 675.6,250.9 C678.0,250.2 679.7,248.9 681.9,247.8 C684.1,246.8 686.6,245.9 688.9,244.7 C691.2,243.5 693.5,242.2 695.9,240.8 C698.4,239.3 701.4,237.7 703.8,236.1 C706.1,234.5 709.0,233.0 710.0,231.4 C711.0,229.8 709.5,228.3 709.6,226.7 C709.7,225.2 710.1,223.7 710.8,222.0 C711.4,220.3 712.6,218.4 713.5,216.6 C714.4,214.7 715.1,212.8 716.2,211.1 C717.4,209.4 718.7,207.6 720.2,206.4 C721.6,205.2 724.1,204.1 724.8,203.7" fill="none" stroke="#000" stroke-opacity="0.75" stroke-width="0.4"/>
<path d="M653.9,245.0 C654.4,245.5 655.9,246.9 656.9,247.5 C657.9,248.1 658.2,248.3 660.0,248.6 C661.8,248.8 665.5,249.0 667.8,249.0 C670.2,248.9 672.0,248.8 674.1,248.2 C676.1,247.6 678.1,246.5 680.3,245.5 C682.5,244.4 685.0,243.3 687.3,242.0 C689.7,240.7 692.0,239.2 694.4,237.7 C696.7,236.1 700.3,234.3 701.4,232.6 C702.5,230.9 701.0,229.1 701.0,227.5 C701.1,225.9 701.1,224.6 701.8,222.8 C702.5,221.0 703.9,218.5 705.3,216.6 C706.7,214.6 708.3,212.8 710.0,211.1 C711.7,209.4 713.6,207.7 715.5,206.4 C717.3,205.1 719.4,204.1 720.9,203.3 C722.4,202.5 723.9,202.0 724.5,201.7 L738.0,200.0 L752.0,182.0 L765.0,150.0 L628.0,150.0 L630.0,236.0Z" fill="#FFA400"/>
<path d="M653.9,245.0 C654.4,245.5 655.9,246.9 656.9,247.5 C657.9,248.1 658.2,248.3 660.0,248.6 C661.8,248.8 665.5,249.0 667.8,249.0 C670.2,248.9 672.0,248.8 674.1,248.2 C676.1,247.6 678.1,246.5 680.3,245.5 C682.5,244.4 685.0,243.3 687.3,242.0 C689.7,240.7 692.0,239.2 694.4,237.7 C696.7,236.1 700.3,234.3 701.4,232.6 C702.5,230.9 701.0,229.1 701.0,227.5 C701.1,225.9 701.1,224.6 701.8,222.8 C702.5,221.0 703.9,218.5 705.3,216.6 C706.7,214.6 708.3,212.8 710.0,211.1 C711.7,209.4 713.6,207.7 715.5,206.4 C717.3,205.1 719.4,204.1 720.9,203.3 C722.4,202.5 723.9,202.0 724.5,201.7" fill="none" stroke="#000" stroke-opacity="0.75" stroke-width="0.4"/>
<path d="M654.2,244.1 C654.6,244.3 655.9,245.1 656.9,245.5 C657.9,245.8 658.4,246.2 660.0,246.2 C661.6,246.3 664.2,246.1 666.2,245.9 C668.3,245.6 670.4,245.3 672.5,244.7 C674.6,244.1 676.5,243.2 678.8,242.3 C681.0,241.5 684.1,240.8 685.8,239.6 C687.5,238.4 688.2,236.8 688.9,235.3 C689.6,233.8 689.7,232.3 690.1,230.6 C690.5,228.9 690.5,227.0 691.2,225.2 C692.0,223.3 693.1,221.6 694.4,219.7 C695.7,217.7 697.2,215.4 699.1,213.4 C700.9,211.5 703.2,209.5 705.3,208.0 C707.4,206.4 709.5,205.2 711.6,204.1 C713.6,203.0 715.7,202.0 717.8,201.3 C719.9,200.6 723.0,200.0 724.1,199.8 L738.0,200.0 L752.0,182.0 L765.0,150.0 L628.0,150.0 L630.0,236.0Z" fill="#FF7600"/>
<path d="M654.2,244.1 C654.6,244.3 655.9,245.1 656.9,245.5 C657.9,245.8 658.4,246.2 660.0,246.2 C661.6,246.3 664.2,246.1 666.2,245.9 C668.3,245.6 670.4,245.3 672.5,244.7 C674.6,244.1 676.5,243.2 678.8,242.3 C681.0,241.5 684.1,240.8 685.8,239.6 C687.5,238.4 688.2,236.8 688.9,235.3 C689.6,233.8 689.7,232.3 690.1,230.6 C690.5,228.9 690.5,227.0 691.2,225.2 C692.0,223.3 693.1,221.6 694.4,219.7 C695.7,217.7 697.2,215.4 699.1,213.4 C700.9,211.5 703.2,209.5 705.3,208.0 C707.4,206.4 709.5,205.2 711.6,204.1 C713.6,203.0 715.7,202.0 717.8,201.3 C719.9,200.6 723.0,200.0 724.1,199.8" fill="none" stroke="#000" stroke-opacity="0.75" stroke-width="0.4"/>
<path d="M654.5,243.4 C654.9,243.4 656.0,243.6 656.9,243.7 C657.8,243.8 658.3,244.3 660.0,243.9 C661.7,243.6 664.7,242.5 667.0,241.6 C669.4,240.7 672.2,239.7 674.1,238.4 C675.9,237.1 676.9,235.4 678.0,233.8 C679.0,232.1 679.7,230.1 680.3,228.3 C681.0,226.5 681.1,224.5 681.9,222.8 C682.7,221.1 683.6,219.8 685.0,218.1 C686.4,216.4 688.5,214.4 690.5,212.7 C692.4,210.9 694.5,209.1 696.7,207.6 C698.9,206.0 701.4,204.5 703.8,203.3 C706.1,202.0 708.4,201.0 710.8,200.2 C713.1,199.3 715.7,198.7 717.8,198.2 C720.0,197.7 722.7,197.6 723.7,197.4 L738.0,200.0 L752.0,182.0 L765.0,150.0 L628.0,150.0 L630.0,236.0Z" fill="#FF4800"/>
<path d="M654.5,243.4 C654.9,243.4 656.0,243.6 656.9,243.7 C657.8,243.8 658.3,244.3 660.0,243.9 C661.7,243.6 664.7,242.5 667.0,241.6 C669.4,240.7 672.2,239.7 674.1,238.4 C675.9,237.1 676.9,235.4 678.0,233.8 C679.0,232.1 679.7,230.1 680.3,228.3 C681.0,226.5 681.1,224.5 681.9,222.8 C682.7,221.1 683.6,219.8 685.0,218.1 C686.4,216.4 688.5,214.4 690.5,212.7 C692.4,210.9 694.5,209.1 696.7,207.6 C698.9,206.0 701.4,204.5 703.8,203.3 C706.1,202.0 708.4,201.0 710.8,200.2 C713.1,199.3 715.7,198.7 717.8,198.2 C720.0,197.7 722.7,197.6 723.7,197.4" fill="none" stroke="#000" stroke-opacity="0.75" stroke-width="0.4"/>
<path d="M654.5,242.7 C654.9,242.6 656.0,242.2 656.9,241.8 C657.8,241.3 659.1,241.3 660.0,240.0 C660.9,238.7 661.4,235.8 662.3,233.8 C663.3,231.7 664.4,229.6 665.5,227.5 C666.5,225.4 667.6,223.2 668.6,221.2 C669.6,219.3 670.5,217.7 671.7,215.8 C672.9,213.8 674.2,211.5 675.6,209.5 C677.1,207.6 678.5,205.8 680.3,204.1 C682.1,202.4 684.3,200.7 686.6,199.4 C688.8,198.1 691.1,197.1 693.6,196.2 C696.1,195.4 698.7,194.8 701.4,194.3 C704.1,193.8 707.3,193.6 710.0,193.5 C712.7,193.5 715.5,193.8 717.8,193.9 C720.2,194.0 723.0,194.2 724.1,194.3 L738.0,200.0 L752.0,182.0 L765.0,150.0 L628.0,150.0 L630.0,236.0Z" fill="#FF1A00"/>
<path d="M654.5,242.7 C654.9,242.6 656.0,242.2 656.9,241.8 C657.8,241.3 659.1,241.3 660.0,240.0 C660.9,238.7 661.4,235.8 662.3,233.8 C663.3,231.7 664.4,229.6 665.5,227.5 C666.5,225.4 667.6,223.2 668.6,221.2 C669.6,219.3 670.5,217.7 671.7,215.8 C672.9,213.8 674.2,211.5 675.6,209.5 C677.1,207.6 678.5,205.8 680.3,204.1 C682.1,202.4 684.3,200.7 686.6,199.4 C688.8,198.1 691.1,197.1 693.6,196.2 C696.1,195.4 698.7,194.8 701.4,194.3 C704.1,193.8 707.3,193.6 710.0,193.5 C712.7,193.5 715.5,193.8 717.8,193.9 C720.2,194.0 723.0,194.2 724.1,194.3" fill="none" stroke="#000" stroke-opacity="0.75" stroke-width="0.4"/>
<polygon points="653.9,241.8 652.8,233.8 652.1,224.3 652.8,214.7 654.9,206.5 658.3,201.0 661.0,197.6 658.3,187.3 633.7,201.0 633.7,236.6 647.3,240.7" fill="#E60000"/>
<polyline points="653.9,241.8 652.8,233.8 652.1,224.3 652.8,214.7 654.9,206.5 658.3,201.0 661.0,197.6" fill="none" stroke="#000" stroke-width="0.4" stroke-opacity="0.75"/>
<polygon points="633.7,224.3 638.5,225.6 643.9,228.4 649.4,231.1 652.8,234.5 653.6,239.3 653.4,242.0 647.3,242.0 636.4,236.6" fill="#B60000"/>
<polyline points="638.5,225.6 643.9,228.4 649.4,231.1 652.8,234.5 653.6,239.3" fill="none" stroke="#000" stroke-width="0.4" stroke-opacity="0.75"/>
<polygon points="674.7,189.4 682.9,192.8 691.1,190.8 702.0,189.4 713.0,188.7 721.2,189.0 726.0,189.5 728.0,173.7 674.7,173.7" fill="#E60000"/>
<polyline points="674.7,189.4 682.9,192.8 691.1,190.8 702.0,189.4 713.0,188.7 721.2,189.0 726.0,189.5" fill="none" stroke="#000" stroke-width="0.4" stroke-opacity="0.75"/>
<polygon points="700.7,185.7 707.5,186.8 713.0,186.8 721.2,187.2 726.6,187.6 729.4,173.7 700.7,173.7" fill="#B60000"/>
<polyline points="700.7,185.7 707.5,186.8 713.0,186.8 721.2,187.2 726.6,187.6" fill="none" stroke="#000" stroke-width="0.4" stroke-opacity="0.75"/>
<polygon points="707.5,181.9 711.6,184.6 715.7,184.1 721.2,184.7 728.0,185.4 731.4,184.1 760.0,184.1 760.0,160.0 707.5,160.0" fill="#8B0000"/>
<polygon points="577.6,261.3 581.7,261.3 584.6,264.5 588.1,266.3 594.0,266.3 599.8,265.5 605.7,263.6 610.4,260.4 613.3,256.9 615.1,254.0 616.0,252.3 616.0,248.1 577.6,255.2" fill="#55FFAA"/>
<polyline points="581.7,261.3 584.6,264.5 588.1,266.3 594.0,266.3 599.8,265.5 605.7,263.6 610.4,260.4 613.3,256.9 615.1,254.0 616.0,252.3" fill="none" stroke="#000" stroke-width="0.5" stroke-opacity="0.8"/>
<polygon points="581.7,255.4 587.0,251.9 592.8,249.9 597.5,249.1 597.5,255.2 583.4,258.7" fill="#FFA400" />
<polygon points="597.5,248.8 606.9,247.7 606.9,254.0 597.5,255.2" fill="#FFD000" />
<polygon points="606.9,247.7 611.6,247.2 611.6,252.8 606.9,254.0" fill="#FFF800" />
<polygon points="611.6,247.3 615.7,246.5 615.7,251.6 611.6,252.8" fill="#DCFF23" />
<polyline points="597.5,248.6 597.3,252.2" fill="none" stroke="#000" stroke-width="0.6" />
<polyline points="606.9,248.6 606.6,252.2" fill="none" stroke="#000" stroke-width="0.6" />
<polyline points="611.6,247.2 611.3,252.2" fill="none" stroke="#000" stroke-width="0.6" />
<polyline points="615.7,247.2 615.4,252.2" fill="none" stroke="#000" stroke-width="0.6" />
<polygon points="635.0,244.8 640.9,241.3 653.8,243.0 654.5,246.5 649.1,246.5 642.0,245.3" fill="#FFD000" />
<polygon points="644.4,241.8 653.8,243.0 654.5,246.5 649.1,246.5 645.6,245.8" fill="#FFA400" />
<polyline points="642.0,241.8 643.4,245.1" fill="none" stroke="#000" stroke-width="0.7" />
<polyline points="646.1,242.0 647.7,246.0" fill="none" stroke="#000" stroke-width="0.7" />
<polyline points="649.7,242.5 650.5,246.4" fill="none" stroke="#000" stroke-width="0.7" />
</g>
<polygon points="759.4,170.6 765.6,170.3 773.4,170.6 773.8,171.6 767.2,172.2 762.5,174.4 759.7,174.7" fill="#FF4800" /><polygon points="765.6,170.6 773.4,170.8 773.4,171.4 766.4,171.9" fill="#FF7600" />
<polyline points="635.0,243.8 640.9,240.6 649.1,241.4 653.8,243.0 655.2,239.9 654.0,235.5 651.6,232.4 649.8,231.7" fill="none" stroke="#fff" stroke-width="2.2" stroke-linejoin="round"/><polyline points="635.0,243.8 640.9,240.6 649.1,241.4 653.5,242.7" fill="none" stroke="#D3D3D3" stroke-width="1.0" />
<polyline points="516.5,299.7 519.0,298.0 522.2,301.4 527.3,304.6 534.3,308.4" fill="none" stroke="#fff" stroke-width="1.2" />
<polyline points="524.1,308.6 529.2,312.8 534.0,316.0" fill="none" stroke="#fff" stroke-width="1.2" />
<polyline points="525.4,316.2 529.8,319.2 534.3,321.3" fill="none" stroke="#fff" stroke-width="1.2" />
<polyline points="517.8,320.4 520.9,321.3" fill="none" stroke="#fff" stroke-width="1.2" />
<polyline points="529.8,284.5 534.3,284.0 540.0,280.5" fill="none" stroke="#fff" stroke-width="1.2" />
<polyline points="533.2,288.1 533.2,293.1" fill="none" stroke="#fff" stroke-width="1.2" />
<polyline points="522.2,301.4 527.3,304.6 534.3,308.4" fill="none" stroke="#FFF800" stroke-width="0.8" />
<polyline points="526.0,317.3 529.8,319.5" fill="none" stroke="#FFF800" stroke-width="0.8" />
<polyline points="536.2,300.1 541.9,300.5" fill="none" stroke="#FFF800" stroke-width="0.8" />
<polygon points="536.2,326.4 541.9,325.1 543.8,321.1 545.7,314.7 547.2,310.9 544.7,307.1 541.9,305.8 539.6,309.6 537.1,312.2 535.8,316.0 534.5,321.1 533.6,325.1" fill="#DCFF23" stroke="#fff" stroke-width="0.6" />
<polygon points="537.1,306.5 538.3,300.8 536.0,297.0 534.5,293.1 533.2,289.3 535.0,286.8 536.8,284.5 538.1,286.8 536.8,290.6 538.1,295.7 540.4,300.8 540.9,305.8" fill="#AAFF55" stroke="#fff" stroke-width="0.6" />
<polygon points="533.2,285.5 535.8,284.0 537.1,286.2 536.0,290.6 534.0,289.6" fill="#80FF80" />
<polygon points="532.5,292.1 534.3,291.9 535.0,297.2 533.2,297.7" fill="#000" />
<polygon points="536.3,303.3 538.1,303.3 538.8,309.4 537.1,309.9" fill="#000" />
<polygon points="551.4,286.8 555.8,285.5 560.3,286.8 562.4,289.3 559.6,292.5 555.8,293.1 553.3,290.6" fill="#FFF800" stroke="#fff" stroke-width="0.5" />
<polygon points="548.2,278.6 550.8,279.8 553.3,284.9 551.4,286.2 549.2,282.4" fill="#FFA400" />
<polygon points="559.0,291.9 562.8,290.0 565.4,293.1 565.4,298.2 562.8,301.4 559.6,302.0 558.6,297.0" fill="#AAFF55" stroke="#000" stroke-width="0.7"/>
<polyline points="554.6,290.4 557.7,288.1 560.9,289.6" fill="none" stroke="#000" stroke-width="0.7" />
<polyline points="553.3,274.1 558.4,270.9 564.1,267.8" fill="none" stroke="#000" stroke-width="0.9" stroke-dasharray="2 1.2"/>
<polygon points="526.6,364.8 528.6,360.2 532.7,357.6 538.1,356.3 542.5,353.8 545.1,350.9 547.6,349.0 549.5,348.4 550.6,351.5 549.4,357.1 544.9,361.5 538.1,365.4 532.4,366.6" fill="#FFF800" stroke="#fff" stroke-width="0.6" />
<polyline points="532.4,366.4 538.1,365.1 544.7,361.3 549.1,356.9 550.4,351.5 548.9,348.0" fill="none" stroke="#000" stroke-width="0.5" />
<polygon points="529.2,345.2 535.5,343.3 541.9,342.6 545.7,345.2 547.6,349.0 545.1,350.3 540.6,347.7 535.5,348.4 530.5,347.7" fill="#FFD000" />
<polygon points="538.1,344.5 543.1,344.2 545.7,347.7 541.9,347.1" fill="#FFA400" />
<polygon points="531.1,331.9 534.9,331.9 534.9,341.4 531.7,341.4" fill="#8B0000" />
<polygon points="519.0,344.5 527.3,343.9 527.3,351.5 520.3,351.5" fill="#8B0000" />
<polygon points="623.8,818.8 627.5,825.0 632.5,832.5 634.5,840.0 631.2,847.5 623.8,850.5 617.5,845.0 614.5,836.2 618.8,827.5 622.0,821.2" fill="#DCFF23" stroke="#fff" stroke-width="0.7" />
<polyline points="617.0,803.8 621.2,811.2 625.0,818.0" fill="none" stroke="#80FF80" stroke-width="1.2" />
<polygon points="495.8,558.8 498.9,554.1 501.2,549.4 503.6,551.7 505.2,557.2 508.3,561.9 511.4,568.1 513.0,575.2 509.8,575.9 507.5,572.8 505.2,567.3 502.0,563.4 498.1,561.1" fill="#D3D3D3" stroke="#eee" stroke-width="0.6" />
<polyline points="485.6,520.5 489.5,523.6 493.4,523.6" fill="none" stroke="#fff" stroke-width="1.5" />
<polyline points="516.9,522.0 520.8,523.6 522.3,527.5 519.2,535.3" fill="none" stroke="#fff" stroke-width="1.5" />
<polyline points="525.5,542.8 530.2,543.9 535.6,548.1 538.4,553.3 537.5,558.8" fill="none" stroke="#fff" stroke-width="1.5" />
<polyline points="545.8,558.0 549.7,561.9 554.1,568.1" fill="none" stroke="#fff" stroke-width="1.5" />
<polyline points="554.4,576.7 557.5,583.8 563.0,591.6" fill="none" stroke="#fff" stroke-width="1.5" />
<polyline points="572.3,592.8 579.4,594.4 581.2,597.8 577.8,601.7 573.9,604.8" fill="none" stroke="#fff" stroke-width="1.5" />
<polyline points="594.2,600.6 602.0,601.7" fill="none" stroke="#fff" stroke-width="1.5" />
<polyline points="607.5,613.4 613.8,610.6 620.0,611.9 626.2,616.9" fill="none" stroke="#fff" stroke-width="1.5" />
<polyline points="562.2,575.2 563.8,576.9" fill="none" stroke="#fff" stroke-width="1.5" />
<polyline points="568.8,568.9 570.0,571.2" fill="none" stroke="#fff" stroke-width="1.5" />
<polyline points="595.8,619.7 598.4,617.3" fill="none" stroke="#fff" stroke-width="1.5" />
<polygon points="584.8,624.7 590.3,624.1 595.0,622.0 597.8,619.7 598.4,622.8 595.0,627.2 590.3,628.4 585.3,627.8" fill="#D3D3D3" stroke="#fff" stroke-width="0.8" />
<polygon points="572.3,595.5 575.0,595.0 574.4,597.8" fill="#FFF800" />
<!-- 12_white.py -->
<polygon points="127.5,718.8 140.0,721.2 150.0,725.0 157.5,727.0 167.5,725.0 177.5,720.0 185.0,716.2 195.0,716.2 205.0,720.0 215.0,727.5 225.0,736.2 235.0,745.0 245.0,752.5 255.0,758.0 265.0,760.0 275.0,762.5 285.0,767.5 295.0,770.0 305.0,772.5 315.0,773.8 322.5,776.2 327.5,780.0 335.0,787.5 341.2,795.0 345.0,795.0 352.5,805.0 358.8,815.0 357.5,825.0 362.5,832.5 370.0,837.5 372.5,832.5 377.5,837.5 387.5,845.0 397.5,852.5 402.5,857.5 400.0,861.2 400.0,875.0 118.0,875.0" fill="#fff" />
<polygon points="467.0,861.2 468.8,857.5 472.5,853.8 480.0,851.2 487.5,853.8 493.8,858.8 495.5,861.2" fill="#fff" />
<polygon points="421.2,845.0 426.2,843.8 431.2,848.8 428.8,852.5 423.8,851.2" fill="#fff" />
<!-- 20_islands.py -->
<polyline points="447.5,585.8 460.0,588.5 472.5,593.5 481.2,598.5 492.5,602.5 502.5,607.2 515.0,613.2" fill="none" stroke="#fff" stroke-width="1.6" stroke-dasharray="7 1.5 4 1 9 2" stroke-opacity="0.9"/>
<polygon points="375.0,610.0 383.8,608.8 386.2,600.0 395.0,593.8 407.5,590.0 422.5,587.0 435.0,586.2 447.5,587.0 460.0,590.0 472.5,595.0 480.0,600.0 490.0,603.8 502.5,608.8 515.0,615.0 525.0,620.0 537.5,623.8 547.5,626.2 552.5,631.2 560.0,633.8 572.5,637.5 577.0,642.0 573.8,643.8 565.0,645.5 552.5,646.2 535.0,646.2 520.0,647.5 511.2,648.8 515.0,646.2 520.5,641.2 515.0,637.5 507.5,633.8 500.0,630.0 492.5,625.0 487.5,620.0 480.0,617.5 472.5,615.0 465.0,612.5 457.5,610.0 450.0,607.5 440.0,606.2 432.5,605.0 427.5,601.2 435.0,598.8 430.0,596.2 420.0,596.2 410.0,598.8 400.0,602.5 390.0,606.2 382.5,611.2" fill="#D3D3D3" />
<polygon points="408.8,611.2 413.8,609.5 418.0,612.5 416.2,617.0 411.2,618.0 408.0,615.0" fill="#D3D3D3" />
<polygon points="478.6,615.8 487.2,615.5 492.7,620.5 488.8,620.9 483.3,618.9" fill="#FFF800" />
<polygon points="508.3,633.0 516.9,633.8 520.3,637.7 516.1,641.2 512.2,637.7" fill="#FFF800" />
<polygon points="515.0,685.5 525.0,685.5 520.0,691.0 516.2,690.0" fill="#fff" />
<polygon points="497.5,676.2 505.0,673.8 515.0,673.2 525.0,676.2 533.8,680.0 537.5,683.8 530.0,685.5 523.8,687.0 518.8,688.0 512.5,686.2 506.2,682.5 500.0,680.0" fill="#D3D3D3" />
<polygon points="589.3,649.8 594.2,647.5 602.0,646.9 608.8,648.8 612.7,651.2 618.6,650.4 622.5,647.9 630.3,646.9 636.2,647.3 642.0,649.2 647.9,651.2 653.8,652.3 656.7,655.7 659.6,659.0 665.5,662.1 673.3,664.1 679.1,667.4 683.4,671.3 685.0,673.8 680.1,676.6 677.2,675.2 673.3,675.2 665.5,675.2 657.7,674.6 651.8,676.2 647.9,678.1 644.0,679.1 642.0,676.6 637.1,677.1 632.3,679.1 630.3,684.0 627.4,688.9 625.4,690.2 622.5,685.9 619.6,682.0 614.7,680.1 608.8,679.1 603.0,679.7 597.1,678.1 591.2,677.1 585.4,679.1 581.5,681.6 577.6,678.1 571.7,676.2 569.8,673.2 573.7,670.7 579.5,671.3 587.3,672.7 595.2,673.8 603.0,673.8 608.8,672.7 608.8,669.3 603.9,667.4 602.0,662.5 602.0,657.6 598.1,653.7 592.2,652.3" fill="#D3D3D3" />
<polygon points="593.2,665.4 599.1,666.4 605.9,669.3 603.9,670.7 597.1,668.8" fill="#D3D3D3" />
<polygon points="615.7,672.3 624.5,673.2 625.4,675.2 617.6,674.2" fill="#fff" />
<polygon points="660.6,658.2 667.4,657.6 668.4,659.6 661.6,660.5" fill="#fff" />
<polygon points="705.5,675.2 708.4,673.8 716.2,673.8 726.0,674.2 734.8,675.2 735.8,678.1 732.9,681.1 728.0,683.0 720.2,684.0 712.3,683.6 706.5,682.0" fill="#D3D3D3" />
<polygon points="584.4,624.4 589.3,623.0 595.2,621.5 597.1,619.5 597.5,624.4 593.2,627.3 587.3,628.3 584.4,627.0" fill="#D3D3D3" stroke="#fff" stroke-width="0.8" />
<polyline points="607.9,613.7 611.8,610.7 616.6,609.4 621.5,611.7 625.4,614.6 626.0,617.2" fill="none" stroke="#fff" stroke-width="2" />
<polyline points="594.2,601.0 602.0,601.6" fill="none" stroke="#fff" stroke-width="1.5" />
<polyline points="573.7,603.9 579.5,600.4" fill="none" stroke="#fff" stroke-width="1.5" />
<polygon points="577.6,261.3 579.7,257.3 582.9,255.9 589.3,254.1 597.5,252.0 604.5,251.2 611.6,250.4 615.1,249.4 622.1,246.8 622.9,246.5 621.2,248.2 616.5,251.8 615.1,252.7 610.4,253.9 604.5,255.3 597.5,257.0 590.5,258.8 583.4,260.5 578.8,261.3" fill="#D3D3D3" stroke="#fff" stroke-width="0.5" />
<polygon points="809.5,818.8 822.5,817.5 824.5,823.8 823.0,830.5 810.0,831.5 809.0,825.0" fill="#D3D3D3" />
<!-- 30_lakes.py -->
<polygon points="343.8,160.0 335.0,164.5 327.5,173.8 318.8,180.0 315.5,185.0 320.0,186.2 327.5,180.5 325.0,190.0 321.2,200.0 318.8,210.0 320.0,225.0 323.8,236.2 330.0,240.5 337.5,238.8 345.0,230.0 349.5,217.5 348.8,208.8 345.0,200.0 346.2,190.0 350.0,181.2 357.5,175.0 365.0,171.2 372.5,168.8 373.8,163.8 367.5,160.0" fill="#fff" />
<polygon points="382.5,160.0 392.5,167.5 402.5,175.0 403.8,185.0 400.0,195.0 393.8,197.5 393.0,201.2 398.8,203.0 407.5,197.5 416.2,197.5 418.8,206.2 421.8,214.5 430.0,211.2 436.2,205.0 440.0,192.5 441.2,185.0 443.0,178.8 447.5,181.2 452.5,185.0 460.0,187.0 466.2,185.0 467.0,181.2 472.5,180.0 467.5,175.0 462.5,167.5 458.8,160.0" fill="#fff" />
<polygon points="402.5,239.5 407.5,232.5 410.0,227.5 412.5,222.5 417.0,221.2 420.0,225.5 417.5,228.8 422.5,230.0 430.0,225.5 440.0,222.0 455.0,218.8 470.0,217.0 482.5,215.5 487.0,213.8 486.2,218.8 480.0,223.0 470.0,227.0 455.0,232.5 442.5,238.8 432.5,242.5 421.2,245.0 410.0,243.2" fill="#fff" />
<polygon points="472.5,205.0 480.0,201.2 490.0,198.8 505.0,197.0 517.5,196.2 525.0,193.0 533.8,191.2 537.5,195.0 536.2,203.8 530.0,206.2 517.5,208.8 505.0,210.0 490.0,210.0 478.8,211.2 472.5,208.8" fill="#fff" />
<polyline points="537.0,193.0 543.8,189.5 550.0,185.0 556.0,181.2 556.0,179.5 566.0,175.0 578.5,171.2 588.5,165.0" fill="none" stroke="#fff" stroke-width="1.6" />
<polyline points="526.2,163.0 531.2,168.0 540.0,170.5 550.0,170.5 556.0,168.0 556.0,167.5 566.0,165.0 578.5,164.5" fill="none" stroke="#fff" stroke-width="1.2" />
<polygon points="475.0,186.2 478.8,183.8 482.0,187.5 478.8,191.2 474.5,190.0" fill="#fff" />
<polygon points="307.0,193.8 310.0,192.5 311.0,197.5 308.5,200.0 306.5,197.0" fill="#fff" />
<polyline points="300.0,193.0 306.2,195.0" fill="none" stroke="#fff" stroke-width="1" />
<polyline points="517.0,217.0 519.5,225.5" fill="none" stroke="#fff" stroke-width="1.0" />
<polyline points="522.5,217.0 524.5,226.2" fill="none" stroke="#fff" stroke-width="1.0" />
<polyline points="527.0,216.5 529.5,224.5" fill="none" stroke="#fff" stroke-width="1.0" />
<polyline points="531.2,215.5 534.5,222.0" fill="none" stroke="#fff" stroke-width="1.0" />
<polyline points="535.0,215.5 537.0,218.8" fill="none" stroke="#fff" stroke-width="1.0" />
<polyline points="538.8,210.5 546.2,212.0" fill="none" stroke="#fff" stroke-width="1.2" />
<polyline points="490.0,185.0 500.0,186.2" fill="none" stroke="#fff" stroke-width="1.2" />
<polyline points="475.0,228.8 480.0,231.2" fill="none" stroke="#fff" stroke-width="1" />
<polyline points="593.5,176.2 591.0,185.0 589.8,197.5 584.8,206.2" fill="none" stroke="#fff" stroke-width="1.4" />
<polyline points="311.2,327.0 315.0,335.0 317.5,346.2" fill="none" stroke="#fff" stroke-width="1.3" />
<polyline points="315.0,326.2 318.8,332.5" fill="none" stroke="#fff" stroke-width="1.3" />
<polyline points="322.5,368.0 330.0,369.5 337.0,372.5" fill="none" stroke="#fff" stroke-width="1.3" />
<polyline points="363.8,335.0 370.0,333.8" fill="none" stroke="#fff" stroke-width="1.3" />
<polyline points="390.0,378.0 395.5,375.5" fill="none" stroke="#fff" stroke-width="1.3" />
<polyline points="407.0,373.0 414.5,374.5" fill="none" stroke="#fff" stroke-width="1.3" />
<polyline points="417.5,383.8 425.0,388.8" fill="none" stroke="#fff" stroke-width="1.3" />
<polyline points="436.2,381.5 443.8,382.5" fill="none" stroke="#fff" stroke-width="1.3" />
<polyline points="470.0,323.8 475.0,326.2" fill="none" stroke="#fff" stroke-width="1.3" />
<polyline points="490.0,332.0 497.5,335.5" fill="none" stroke="#fff" stroke-width="1.3" />
<polyline points="500.0,336.2 508.8,337.0" fill="none" stroke="#fff" stroke-width="1.3" />
<polyline points="456.2,391.2 463.8,395.0" fill="none" stroke="#fff" stroke-width="1.3" />
<polyline points="347.5,391.2 350.0,393.8" fill="none" stroke="#fff" stroke-width="1.3" />
<polyline points="343.8,401.2 345.5,406.2" fill="none" stroke="#fff" stroke-width="1.3" />
<ellipse cx="366.2" cy="803.8" rx="12.5" ry="7" fill="#fff" transform="rotate(35 366.2 803.8)"/>
<polygon points="342.5,787.0 347.5,786.2 351.2,790.0 347.5,792.5 343.0,791.2" fill="#fff" />
<polyline points="152.5,675.5 159.5,680.5" fill="none" stroke="#fff" stroke-width="1.6" />
<polyline points="207.5,699.0 216.2,700.5" fill="none" stroke="#fff" stroke-width="1.6" />
<polyline points="223.8,715.0 231.2,718.8 240.0,722.5" fill="none" stroke="#fff" stroke-width="1.6" />
<polyline points="226.2,714.5 230.0,720.5" fill="none" stroke="#fff" stroke-width="1.6" />
<polyline points="291.2,730.0 298.8,728.0" fill="none" stroke="#fff" stroke-width="1.6" />
<polyline points="320.0,771.2 327.5,773.0" fill="none" stroke="#fff" stroke-width="1.6" />
<polyline points="323.8,768.8 324.5,777.0" fill="none" stroke="#fff" stroke-width="1.6" />
<polyline points="342.5,788.0 352.5,792.0" fill="none" stroke="#fff" stroke-width="1.6" />
<polyline points="243.8,670.0 248.8,673.0 255.0,670.0" fill="none" stroke="#fff" stroke-width="1.6" />
<polyline points="256.2,744.5 258.0,745.5" fill="none" stroke="#fff" stroke-width="1.6" />
<polyline points="295.0,764.5 298.8,763.8" fill="none" stroke="#fff" stroke-width="1.6" />
<polyline points="150.5,166.2 155.5,163.5" fill="none" stroke="#fff" stroke-width="1.0" />
<polyline points="139.2,169.5 141.8,172.0" fill="none" stroke="#fff" stroke-width="1.0" />
<polyline points="141.8,189.5 143.5,190.5" fill="none" stroke="#fff" stroke-width="1.0" />
<polyline points="230.5,185.0 235.5,186.0 239.2,188.2" fill="none" stroke="#fff" stroke-width="1.0" />
<polyline points="254.2,197.5 256.0,205.0 258.0,208.0 257.5,213.0" fill="none" stroke="#fff" stroke-width="1.0" />
<polyline points="278.8,192.5 279.5,198.8" fill="none" stroke="#fff" stroke-width="1.0" />
<polyline points="299.2,193.2 306.8,194.5" fill="none" stroke="#fff" stroke-width="1.0" />
<polyline points="289.2,212.0 291.8,213.8" fill="none" stroke="#fff" stroke-width="1.0" />
<polyline points="180.5,201.2 181.8,202.5" fill="none" stroke="#fff" stroke-width="1.0" />
<polyline points="199.2,189.5 201.0,191.0" fill="none" stroke="#fff" stroke-width="1.0" />
<polyline points="256.8,171.2 259.2,173.0" fill="none" stroke="#fff" stroke-width="1.0" />
<polyline points="311.8,327.0 315.0,335.0 316.8,346.2" fill="none" stroke="#fff" stroke-width="1.0" />
<polyline points="314.2,327.0 318.0,332.5 316.0,340.0" fill="none" stroke="#fff" stroke-width="1.0" />
<polyline points="364.2,335.0 369.2,334.2" fill="none" stroke="#fff" stroke-width="1.0" />
<polyline points="323.0,368.5 330.5,369.5 336.8,372.5" fill="none" stroke="#fff" stroke-width="1.0" />
<polyline points="213.0,372.2 219.2,371.8" fill="none" stroke="#fff" stroke-width="1.0" />
<polyline points="348.0,391.2 350.0,395.0" fill="none" stroke="#fff" stroke-width="1.0" />
<polyline points="344.2,401.2 345.5,406.2" fill="none" stroke="#fff" stroke-width="1.0" />
<polyline points="378.0,189.5 380.0,190.5" fill="none" stroke="#fff" stroke-width="1.0" />
<polyline points="174.2,165.5 178.0,164.0" fill="none" stroke="#fff" stroke-width="1.0" />
<polygon points="306.8,193.0 310.0,192.5 311.0,197.5 308.5,200.0 306.5,197.5" fill="#fff" />
<polygon points="148.0,383.8 151.8,385.0 154.2,382.0 157.5,382.0 157.0,387.0 151.8,387.5" fill="#fff" />
<polygon points="203.2,421.5 205.5,423.0 208.0,428.0 210.0,431.2 212.0,435.0 210.5,436.5 208.0,434.5 207.0,429.5" fill="#fff" />
<polyline points="343.8,401.2 345.5,406.2" fill="none" stroke="#fff" stroke-width="1.0" />
<polygon points="753.0,671.2 758.0,669.5 760.5,672.0 755.5,675.5" fill="#e4e4e4" />
<polyline points="805.5,690.5 807.0,693.0" fill="none" stroke="#dcdcdc" stroke-width="2" stroke-linecap="round"/>
<polyline points="805.5,699.5 808.0,701.5" fill="none" stroke="#dcdcdc" stroke-width="2" stroke-linecap="round"/>
<polyline points="809.5,713.0 811.0,719.5" fill="none" stroke="#dcdcdc" stroke-width="3" stroke-linecap="round"/>
<polyline points="814.0,730.0 815.5,735.5" fill="none" stroke="#dcdcdc" stroke-width="3" stroke-linecap="round"/>
<polyline points="818.8,743.0 823.8,748.0" fill="none" stroke="#dcdcdc" stroke-width="3" stroke-linecap="round"/>
<polyline points="821.2,757.0 823.0,762.0" fill="none" stroke="#dcdcdc" stroke-width="2.5" stroke-linecap="round"/>
<polyline points="816.2,769.5 818.0,775.5" fill="none" stroke="#dcdcdc" stroke-width="2" stroke-linecap="round"/>
<polyline points="814.5,778.0 815.5,785.0" fill="none" stroke="#dcdcdc" stroke-width="2" stroke-linecap="round"/>
<polyline points="807.0,798.0 809.0,800.5" fill="none" stroke="#dcdcdc" stroke-width="2" stroke-linecap="round"/>
<polyline points="782.5,678.8 784.0,681.2" fill="none" stroke="#dcdcdc" stroke-width="1.5" stroke-linecap="round"/>
<polyline points="787.5,693.0 792.0,698.0" fill="none" stroke="#dcdcdc" stroke-width="1.5" stroke-linecap="round"/>
<polyline points="798.0,704.5 799.5,707.5" fill="none" stroke="#dcdcdc" stroke-width="1.5" stroke-linecap="round"/>
<polyline points="753.8,683.8 756.2,685.5" fill="none" stroke="#dcdcdc" stroke-width="1.5" stroke-linecap="round"/>
<polyline points="590.0,805.5 597.5,800.5 605.0,794.5 615.0,788.0 623.8,786.2" fill="none" stroke="#fff" stroke-width="1.4" />
<polyline points="685.0,815.5 688.0,820.5 695.0,824.2" fill="none" stroke="#fff" stroke-width="1.4" />
<polyline points="762.5,824.5 770.0,821.5 780.0,819.2" fill="none" stroke="#fff" stroke-width="1.4" />
<polyline points="650.0,797.0 653.8,791.5 658.0,797.0" fill="none" stroke="#fff" stroke-width="1.4" />
<polyline points="711.2,798.0 717.5,797.0" fill="none" stroke="#fff" stroke-width="1.4" />
<polyline points="740.0,815.0 743.8,814.0" fill="none" stroke="#fff" stroke-width="1.4" />
<polyline points="762.5,813.8 768.0,811.2" fill="none" stroke="#fff" stroke-width="1.4" />
<polyline points="669.5,788.0 676.2,793.8" fill="none" stroke="#fff" stroke-width="1.4" />
<polyline points="683.8,789.5 686.2,793.0" fill="none" stroke="#fff" stroke-width="1.4" />
<polyline points="652.5,783.8 655.5,787.0" fill="none" stroke="#fff" stroke-width="1.4" />
<!-- 40_details.py -->
<polygon points="418.8,507.4 423.4,510.3 428.1,515.0 431.1,517.4 436.3,518.3 441.0,516.2 443.4,511.5 446.9,510.1 451.6,509.2 455.1,510.3 457.4,512.7 461.0,513.3 463.3,516.2 464.1,522.1 463.5,529.1 461.0,534.4 457.7,536.4 455.3,537.5 453.7,541.8 451.8,545.5 449.0,546.2 446.4,543.4 443.6,538.7 439.9,535.7 435.2,533.4 432.8,529.7 430.5,524.4 427.5,520.9 425.2,516.2 421.7,512.1" fill="#8B0000" />
<polygon points="449.8,490.4 452.2,491.6 455.1,498.6 458.0,505.7 461.0,511.5 463.9,516.2 461.0,513.9 457.4,510.6 453.9,503.3 451.6,496.3" fill="#8B0000" />
<polygon points="448.7,537.3 451.6,535.5 455.1,536.7 453.3,540.8 452.2,544.3 449.8,543.2 448.1,539.6" fill="#FF4800" />
<polygon points="449.8,537.9 452.2,537.1 451.6,540.8 450.4,541.8" fill="#FF7600" />
<polygon points="446.3,514.4 452.8,511.5 455.1,513.3 451.6,520.9" fill="none" stroke="#e8c8c8" stroke-width="0.5"/>
<polyline points="431.1,481.3 433.4,483.1" fill="none" stroke="#fff" stroke-width="1.0" />
<polyline points="435.2,483.6 437.3,485.5" fill="none" stroke="#fff" stroke-width="1.0" />
<polyline points="439.9,490.6 441.3,495.1" fill="none" stroke="#fff" stroke-width="1.0" />
<polyline points="442.0,496.0 443.6,499.6" fill="none" stroke="#fff" stroke-width="1.0" />
<polyline points="441.3,506.6 442.2,508.0" fill="none" stroke="#fff" stroke-width="1.0" />
<g fill="#8B0000" shape-rendering="crispEdges"><rect x="413" y="473" width="2" height="1"/><rect x="403" y="462" width="1" height="1"/><rect x="417" y="477" width="2" height="2"/><rect x="417" y="485" width="2" height="1"/><rect x="406" y="467" width="1" height="2"/><rect x="417" y="489" width="1" height="1"/><rect x="416" y="492" width="1" height="1"/><rect x="417" y="498" width="2" height="2"/><rect x="416" y="494" width="1" height="2"/><rect x="406" y="466" width="2" height="2"/><rect x="418" y="501" width="2" height="1"/><rect x="419" y="498" width="1" height="2"/><rect x="420" y="490" width="1" height="2"/><rect x="401" y="461" width="1" height="2"/><rect x="405" y="466" width="1" height="1"/><rect x="419" y="485" width="1" height="1"/><rect x="416" y="473" width="1" height="1"/><rect x="410" y="469" width="1" height="1"/><rect x="416" y="475" width="2" height="2"/><rect x="416" y="491" width="2" height="2"/><rect x="415" y="476" width="1" height="1"/><rect x="408" y="469" width="1" height="1"/><rect x="404" y="465" width="2" height="1"/><rect x="410" y="470" width="2" height="2"/><rect x="417" y="479" width="1" height="1"/><rect x="415" y="499" width="2" height="1"/><rect x="416" y="485" width="2" height="2"/><rect x="410" y="471" width="2" height="2"/><rect x="413" y="474" width="2" height="2"/><rect x="417" y="498" width="1" height="1"/><rect x="401" y="462" width="2" height="1"/><rect x="422" y="503" width="1" height="1"/><rect x="408" y="469" width="2" height="1"/><rect x="418" y="490" width="2" height="2"/><rect x="416" y="495" width="1" height="2"/><rect x="419" y="506" width="2" height="1"/><rect x="406" y="466" width="1" height="2"/><rect x="420" y="506" width="1" height="1"/><rect x="420" y="506" width="1" height="2"/><rect x="416" y="499" width="1" height="2"/><rect x="410" y="471" width="1" height="1"/><rect x="419" y="487" width="2" height="2"/><rect x="416" y="483" width="1" height="2"/><rect x="408" y="467" width="1" height="2"/><rect x="418" y="485" width="1" height="1"/><rect x="416" y="497" width="2" height="1"/><rect x="417" y="488" width="1" height="2"/><rect x="420" y="481" width="2" height="1"/><rect x="420" y="485" width="1" height="1"/><rect x="403" y="464" width="2" height="2"/><rect x="408" y="465" width="2" height="2"/><rect x="411" y="467" width="2" height="2"/><rect x="407" y="467" width="1" height="1"/><rect x="415" y="493" width="1" height="1"/><rect x="417" y="489" width="2" height="2"/><rect x="404" y="465" width="1" height="1"/><rect x="418" y="476" width="1" height="2"/><rect x="418" y="485" width="2" height="1"/><rect x="405" y="462" width="1" height="2"/><rect x="404" y="461" width="2" height="2"/><rect x="411" y="471" width="1" height="1"/><rect x="402" y="463" width="2" height="1"/><rect x="416" y="481" width="1" height="1"/><rect x="416" y="494" width="2" height="1"/><rect x="416" y="498" width="1" height="2"/><rect x="419" y="492" width="2" height="2"/><rect x="415" y="476" width="1" height="2"/><rect x="410" y="471" width="2" height="2"/><rect x="411" y="471" width="1" height="1"/><rect x="413" y="469" width="1" height="2"/><rect x="412" y="472" width="1" height="2"/><rect x="408" y="468" width="1" height="1"/><rect x="402" y="463" width="2" height="2"/><rect x="417" y="496" width="1" height="1"/><rect x="419" y="507" width="1" height="2"/></g>
<g fill="#8B0000" shape-rendering="crispEdges"><rect x="452" y="497" width="1" height="1"/><rect x="441" y="475" width="2" height="2"/><rect x="446" y="484" width="1" height="1"/><rect x="434" y="447" width="2" height="2"/><rect x="446" y="471" width="1" height="1"/><rect x="450" y="481" width="1" height="1"/><rect x="452" y="486" width="1" height="1"/><rect x="442" y="472" width="2" height="1"/><rect x="440" y="450" width="1" height="1"/><rect x="439" y="444" width="2" height="1"/><rect x="444" y="473" width="2" height="1"/><rect x="450" y="503" width="2" height="2"/><rect x="444" y="470" width="1" height="1"/><rect x="438" y="449" width="2" height="1"/><rect x="451" y="497" width="1" height="1"/><rect x="437" y="440" width="1" height="1"/><rect x="436" y="462" width="2" height="1"/><rect x="452" y="499" width="1" height="1"/><rect x="455" y="503" width="1" height="1"/><rect x="434" y="448" width="1" height="1"/><rect x="446" y="473" width="2" height="2"/><rect x="443" y="482" width="2" height="1"/><rect x="450" y="487" width="1" height="1"/><rect x="456" y="498" width="1" height="2"/><rect x="457" y="501" width="1" height="1"/><rect x="440" y="451" width="1" height="1"/><rect x="448" y="498" width="1" height="1"/><rect x="442" y="462" width="1" height="2"/><rect x="451" y="488" width="1" height="1"/><rect x="439" y="444" width="1" height="2"/><rect x="454" y="494" width="1" height="1"/><rect x="452" y="501" width="1" height="2"/><rect x="454" y="496" width="1" height="2"/><rect x="449" y="493" width="1" height="1"/><rect x="443" y="475" width="2" height="2"/><rect x="442" y="471" width="1" height="2"/><rect x="448" y="481" width="2" height="2"/><rect x="440" y="447" width="1" height="1"/><rect x="448" y="478" width="2" height="2"/><rect x="453" y="495" width="2" height="2"/><rect x="442" y="460" width="1" height="1"/><rect x="444" y="485" width="1" height="1"/><rect x="450" y="483" width="1" height="1"/><rect x="457" y="500" width="1" height="2"/><rect x="435" y="460" width="1" height="1"/><rect x="443" y="485" width="1" height="2"/><rect x="440" y="449" width="2" height="2"/><rect x="445" y="489" width="1" height="2"/><rect x="453" y="486" width="1" height="1"/><rect x="440" y="451" width="2" height="1"/><rect x="457" y="500" width="2" height="1"/><rect x="437" y="444" width="1" height="1"/><rect x="456" y="496" width="2" height="1"/><rect x="440" y="442" width="2" height="2"/><rect x="442" y="462" width="1" height="2"/><rect x="441" y="461" width="2" height="2"/><rect x="457" y="499" width="2" height="2"/><rect x="442" y="465" width="2" height="1"/><rect x="450" y="492" width="2" height="1"/><rect x="441" y="461" width="1" height="2"/><rect x="441" y="456" width="1" height="2"/><rect x="448" y="497" width="1" height="1"/><rect x="449" y="485" width="2" height="2"/><rect x="447" y="489" width="2" height="1"/><rect x="446" y="476" width="1" height="1"/><rect x="434" y="451" width="1" height="2"/><rect x="446" y="473" width="2" height="1"/><rect x="440" y="473" width="1" height="1"/><rect x="440" y="448" width="2" height="1"/><rect x="453" y="495" width="2" height="1"/><rect x="445" y="479" width="1" height="1"/><rect x="438" y="457" width="1" height="1"/><rect x="450" y="482" width="2" height="1"/><rect x="439" y="444" width="2" height="1"/><rect x="436" y="451" width="1" height="2"/><rect x="439" y="461" width="2" height="2"/><rect x="442" y="463" width="1" height="2"/><rect x="439" y="470" width="1" height="1"/><rect x="436" y="442" width="1" height="2"/><rect x="440" y="465" width="1" height="2"/><rect x="438" y="448" width="1" height="1"/><rect x="450" y="501" width="2" height="1"/><rect x="453" y="497" width="2" height="1"/><rect x="438" y="468" width="1" height="1"/><rect x="444" y="473" width="2" height="2"/></g>
<g fill="#8B0000" shape-rendering="crispEdges"><rect x="430" y="442" width="2" height="1"/><rect x="434" y="448" width="2" height="2"/><rect x="432" y="446" width="1" height="2"/><rect x="434" y="446" width="2" height="1"/><rect x="434" y="446" width="1" height="2"/><rect x="435" y="446" width="2" height="2"/><rect x="435" y="446" width="2" height="1"/><rect x="435" y="452" width="1" height="2"/><rect x="432" y="448" width="2" height="2"/><rect x="431" y="442" width="2" height="1"/><rect x="437" y="449" width="1" height="1"/><rect x="434" y="446" width="1" height="2"/><rect x="433" y="450" width="1" height="2"/><rect x="435" y="448" width="2" height="2"/><rect x="428" y="445" width="2" height="1"/><rect x="437" y="452" width="2" height="1"/><rect x="437" y="448" width="2" height="2"/><rect x="434" y="448" width="1" height="1"/><rect x="435" y="448" width="1" height="1"/><rect x="435" y="447" width="1" height="2"/><rect x="431" y="444" width="2" height="2"/><rect x="429" y="444" width="1" height="2"/><rect x="436" y="451" width="1" height="2"/><rect x="435" y="447" width="2" height="2"/><rect x="430" y="446" width="2" height="1"/><rect x="428" y="444" width="2" height="1"/><rect x="431" y="444" width="2" height="1"/><rect x="432" y="445" width="2" height="2"/><rect x="428" y="443" width="2" height="2"/><rect x="432" y="443" width="1" height="2"/><rect x="434" y="449" width="2" height="2"/><rect x="436" y="450" width="2" height="1"/><rect x="437" y="449" width="2" height="2"/><rect x="436" y="448" width="1" height="2"/><rect x="434" y="449" width="2" height="2"/><rect x="434" y="450" width="2" height="1"/><rect x="430" y="445" width="1" height="1"/><rect x="429" y="444" width="1" height="1"/><rect x="435" y="449" width="1" height="2"/><rect x="432" y="447" width="1" height="2"/></g>
<g fill="#8B0000" shape-rendering="crispEdges"><rect x="408" y="466" width="1" height="1"/><rect x="404" y="463" width="2" height="1"/><rect x="348" y="450" width="1" height="1"/><rect x="342" y="450" width="1" height="1"/><rect x="410" y="470" width="1" height="1"/><rect x="373" y="459" width="1" height="1"/><rect x="404" y="465" width="1" height="1"/><rect x="399" y="457" width="1" height="2"/><rect x="355" y="452" width="1" height="2"/><rect x="362" y="456" width="1" height="2"/><rect x="347" y="449" width="2" height="1"/><rect x="371" y="460" width="2" height="1"/><rect x="357" y="453" width="1" height="2"/><rect x="359" y="454" width="2" height="2"/><rect x="366" y="460" width="2" height="2"/><rect x="354" y="452" width="1" height="1"/><rect x="405" y="466" width="2" height="2"/><rect x="352" y="452" width="1" height="1"/><rect x="365" y="459" width="1" height="2"/><rect x="349" y="450" width="2" height="1"/><rect x="356" y="452" width="1" height="1"/><rect x="370" y="459" width="2" height="1"/><rect x="352" y="450" width="2" height="1"/><rect x="383" y="457" width="2" height="2"/><rect x="400" y="459" width="2" height="1"/><rect x="364" y="457" width="2" height="2"/><rect x="388" y="456" width="2" height="1"/><rect x="392" y="454" width="2" height="1"/><rect x="376" y="458" width="1" height="2"/><rect x="408" y="469" width="1" height="2"/><rect x="379" y="459" width="1" height="2"/><rect x="357" y="453" width="1" height="2"/><rect x="366" y="460" width="1" height="1"/><rect x="372" y="459" width="1" height="2"/><rect x="408" y="469" width="1" height="1"/><rect x="352" y="449" width="1" height="1"/><rect x="359" y="452" width="2" height="2"/><rect x="376" y="461" width="2" height="1"/><rect x="403" y="464" width="1" height="1"/><rect x="340" y="448" width="1" height="1"/><rect x="373" y="460" width="2" height="2"/><rect x="345" y="448" width="1" height="2"/><rect x="388" y="457" width="2" height="1"/><rect x="348" y="451" width="1" height="1"/><rect x="407" y="466" width="2" height="2"/><rect x="392" y="454" width="1" height="2"/><rect x="380" y="459" width="1" height="1"/><rect x="358" y="454" width="1" height="1"/><rect x="377" y="460" width="1" height="2"/><rect x="375" y="461" width="1" height="1"/><rect x="409" y="471" width="1" height="2"/><rect x="393" y="454" width="1" height="1"/><rect x="406" y="467" width="1" height="2"/><rect x="368" y="460" width="1" height="1"/><rect x="372" y="460" width="2" height="1"/><rect x="378" y="461" width="2" height="2"/><rect x="365" y="459" width="2" height="2"/><rect x="344" y="449" width="1" height="1"/><rect x="341" y="450" width="2" height="2"/><rect x="407" y="467" width="2" height="2"/><rect x="392" y="456" width="2" height="1"/><rect x="355" y="453" width="2" height="1"/><rect x="403" y="461" width="1" height="1"/><rect x="365" y="458" width="1" height="1"/><rect x="344" y="450" width="2" height="1"/><rect x="341" y="450" width="2" height="1"/><rect x="371" y="461" width="1" height="1"/><rect x="340" y="449" width="1" height="2"/><rect x="351" y="451" width="2" height="1"/><rect x="344" y="449" width="2" height="1"/><rect x="387" y="456" width="1" height="2"/><rect x="394" y="458" width="2" height="1"/><rect x="364" y="457" width="1" height="1"/><rect x="368" y="460" width="1" height="2"/><rect x="368" y="459" width="1" height="2"/><rect x="410" y="468" width="1" height="2"/><rect x="394" y="455" width="2" height="2"/><rect x="386" y="458" width="1" height="2"/><rect x="385" y="455" width="1" height="1"/><rect x="372" y="460" width="1" height="2"/><rect x="402" y="460" width="2" height="2"/><rect x="393" y="454" width="1" height="2"/><rect x="357" y="452" width="2" height="2"/><rect x="375" y="461" width="2" height="1"/><rect x="348" y="448" width="1" height="2"/><rect x="405" y="466" width="1" height="1"/><rect x="355" y="451" width="1" height="1"/><rect x="352" y="452" width="1" height="2"/><rect x="399" y="460" width="1" height="1"/><rect x="343" y="447" width="1" height="1"/></g>
<polygon points="361.2,456.2 367.5,460.0 373.8,461.5 377.5,460.0 375.0,458.0 368.8,457.0 365.0,453.8" fill="#8B0000" />
<g fill="#8B0000" shape-rendering="crispEdges"><rect x="486" y="389" width="2" height="2"/><rect x="442" y="455" width="1" height="1"/><rect x="454" y="406" width="2" height="1"/><rect x="462" y="407" width="1" height="2"/><rect x="465" y="397" width="1" height="1"/><rect x="508" y="367" width="1" height="1"/><rect x="499" y="379" width="2" height="2"/><rect x="465" y="396" width="2" height="2"/><rect x="474" y="401" width="1" height="1"/><rect x="442" y="455" width="1" height="1"/><rect x="475" y="401" width="1" height="2"/><rect x="436" y="464" width="1" height="1"/><rect x="442" y="483" width="1" height="1"/><rect x="493" y="384" width="1" height="1"/><rect x="476" y="396" width="1" height="1"/><rect x="446" y="471" width="1" height="1"/><rect x="432" y="447" width="1" height="2"/><rect x="473" y="402" width="1" height="1"/><rect x="431" y="436" width="1" height="1"/><rect x="505" y="385" width="2" height="1"/><rect x="490" y="386" width="2" height="2"/><rect x="443" y="467" width="2" height="1"/><rect x="440" y="469" width="1" height="1"/><rect x="463" y="405" width="2" height="2"/><rect x="490" y="383" width="2" height="1"/><rect x="481" y="397" width="2" height="2"/><rect x="450" y="419" width="2" height="1"/><rect x="438" y="468" width="1" height="2"/><rect x="450" y="496" width="1" height="2"/><rect x="490" y="380" width="1" height="2"/><rect x="444" y="488" width="2" height="2"/><rect x="456" y="414" width="1" height="1"/><rect x="435" y="458" width="2" height="1"/><rect x="449" y="494" width="2" height="1"/><rect x="499" y="380" width="1" height="2"/><rect x="441" y="451" width="2" height="2"/><rect x="444" y="473" width="2" height="2"/><rect x="439" y="433" width="1" height="2"/><rect x="485" y="389" width="1" height="2"/><rect x="488" y="380" width="1" height="2"/><rect x="507" y="369" width="2" height="1"/><rect x="454" y="415" width="1" height="1"/><rect x="510" y="370" width="2" height="2"/><rect x="504" y="385" width="2" height="1"/><rect x="450" y="407" width="2" height="1"/><rect x="509" y="376" width="1" height="2"/><rect x="509" y="374" width="2" height="1"/><rect x="448" y="476" width="1" height="1"/><rect x="447" y="483" width="2" height="2"/><rect x="439" y="466" width="2" height="1"/><rect x="439" y="447" width="1" height="2"/><rect x="452" y="494" width="2" height="1"/><rect x="431" y="452" width="1" height="1"/><rect x="500" y="383" width="1" height="2"/><rect x="449" y="479" width="1" height="1"/><rect x="435" y="439" width="2" height="2"/><rect x="478" y="391" width="2" height="2"/><rect x="507" y="382" width="2" height="2"/><rect x="444" y="411" width="2" height="2"/><rect x="464" y="406" width="2" height="1"/><rect x="438" y="432" width="2" height="2"/><rect x="449" y="416" width="1" height="2"/><rect x="462" y="410" width="2" height="2"/><rect x="511" y="377" width="1" height="1"/><rect x="458" y="409" width="2" height="2"/><rect x="451" y="414" width="1" height="2"/><rect x="431" y="438" width="1" height="1"/><rect x="438" y="431" width="2" height="1"/><rect x="441" y="424" width="2" height="2"/><rect x="445" y="470" width="2" height="1"/><rect x="504" y="380" width="2" height="1"/><rect x="446" y="472" width="1" height="1"/><rect x="466" y="403" width="2" height="1"/><rect x="436" y="429" width="1" height="1"/><rect x="495" y="382" width="1" height="2"/><rect x="437" y="456" width="2" height="1"/><rect x="449" y="476" width="1" height="1"/><rect x="449" y="411" width="1" height="1"/><rect x="485" y="390" width="1" height="1"/><rect x="442" y="482" width="1" height="1"/><rect x="444" y="490" width="1" height="2"/><rect x="443" y="457" width="1" height="2"/><rect x="492" y="387" width="1" height="2"/><rect x="441" y="458" width="1" height="2"/><rect x="444" y="414" width="1" height="1"/><rect x="513" y="374" width="2" height="1"/><rect x="442" y="432" width="1" height="1"/><rect x="444" y="466" width="2" height="1"/><rect x="441" y="473" width="2" height="1"/><rect x="439" y="421" width="1" height="2"/><rect x="432" y="434" width="2" height="1"/><rect x="446" y="424" width="2" height="2"/><rect x="440" y="437" width="2" height="1"/><rect x="450" y="414" width="1" height="2"/><rect x="458" y="410" width="1" height="2"/><rect x="435" y="445" width="1" height="2"/><rect x="441" y="449" width="1" height="2"/><rect x="439" y="452" width="2" height="2"/><rect x="447" y="475" width="2" height="1"/><rect x="438" y="429" width="2" height="1"/><rect x="467" y="406" width="2" height="2"/><rect x="452" y="489" width="1" height="1"/><rect x="451" y="490" width="2" height="2"/><rect x="479" y="397" width="1" height="1"/><rect x="493" y="380" width="2" height="2"/><rect x="451" y="489" width="1" height="2"/><rect x="484" y="394" width="2" height="2"/><rect x="441" y="451" width="2" height="2"/><rect x="477" y="390" width="1" height="2"/><rect x="441" y="426" width="2" height="1"/><rect x="473" y="394" width="2" height="2"/><rect x="455" y="413" width="1" height="1"/><rect x="440" y="447" width="1" height="1"/><rect x="451" y="414" width="1" height="2"/><rect x="444" y="475" width="2" height="2"/><rect x="442" y="471" width="2" height="2"/><rect x="448" y="478" width="1" height="1"/><rect x="439" y="466" width="1" height="1"/><rect x="440" y="437" width="2" height="2"/><rect x="445" y="484" width="1" height="1"/><rect x="444" y="426" width="2" height="2"/><rect x="463" y="398" width="1" height="1"/><rect x="447" y="493" width="1" height="2"/><rect x="494" y="378" width="2" height="2"/><rect x="440" y="444" width="1" height="2"/><rect x="433" y="435" width="2" height="2"/><rect x="492" y="382" width="1" height="1"/><rect x="446" y="471" width="2" height="1"/><rect x="437" y="420" width="1" height="1"/><rect x="481" y="397" width="2" height="1"/><rect x="436" y="451" width="1" height="1"/><rect x="470" y="396" width="1" height="1"/><rect x="458" y="410" width="1" height="1"/><rect x="510" y="369" width="2" height="2"/><rect x="492" y="388" width="1" height="2"/><rect x="509" y="374" width="1" height="2"/><rect x="452" y="492" width="1" height="2"/><rect x="437" y="436" width="2" height="1"/><rect x="449" y="478" width="1" height="2"/><rect x="442" y="456" width="1" height="2"/><rect x="439" y="461" width="2" height="1"/><rect x="442" y="431" width="2" height="2"/><rect x="485" y="393" width="1" height="2"/><rect x="442" y="433" width="2" height="1"/><rect x="486" y="391" width="1" height="2"/><rect x="443" y="463" width="2" height="2"/><rect x="501" y="382" width="1" height="2"/><rect x="434" y="442" width="1" height="1"/><rect x="476" y="388" width="2" height="1"/><rect x="452" y="408" width="2" height="1"/><rect x="443" y="466" width="1" height="1"/><rect x="442" y="481" width="1" height="2"/><rect x="441" y="435" width="2" height="2"/><rect x="510" y="377" width="2" height="2"/><rect x="490" y="389" width="2" height="1"/><rect x="448" y="421" width="2" height="2"/><rect x="449" y="485" width="2" height="1"/><rect x="444" y="470" width="1" height="1"/><rect x="449" y="496" width="1" height="2"/><rect x="452" y="489" width="1" height="2"/><rect x="438" y="456" width="2" height="1"/><rect x="455" y="407" width="2" height="2"/><rect x="440" y="438" width="2" height="2"/><rect x="435" y="448" width="2" height="1"/><rect x="455" y="411" width="1" height="2"/><rect x="447" y="419" width="1" height="1"/><rect x="446" y="497" width="2" height="1"/><rect x="446" y="469" width="2" height="2"/><rect x="508" y="378" width="1" height="1"/><rect x="456" y="402" width="1" height="2"/><rect x="449" y="486" width="1" height="1"/><rect x="446" y="470" width="1" height="1"/><rect x="460" y="401" width="2" height="2"/><rect x="464" y="409" width="1" height="1"/><rect x="442" y="467" width="2" height="1"/><rect x="434" y="444" width="2" height="1"/><rect x="449" y="487" width="1" height="1"/><rect x="463" y="407" width="2" height="2"/><rect x="516" y="375" width="1" height="1"/><rect x="447" y="471" width="2" height="1"/><rect x="453" y="411" width="2" height="1"/><rect x="482" y="394" width="2" height="1"/><rect x="479" y="384" width="2" height="2"/><rect x="448" y="475" width="2" height="1"/><rect x="516" y="373" width="1" height="1"/><rect x="448" y="487" width="2" height="1"/><rect x="447" y="473" width="1" height="1"/><rect x="487" y="390" width="2" height="1"/><rect x="489" y="386" width="1" height="2"/><rect x="446" y="487" width="1" height="2"/><rect x="434" y="428" width="1" height="1"/><rect x="439" y="455" width="2" height="2"/><rect x="431" y="450" width="1" height="2"/><rect x="501" y="385" width="1" height="1"/><rect x="443" y="414" width="2" height="1"/><rect x="456" y="404" width="1" height="2"/><rect x="500" y="386" width="1" height="1"/><rect x="440" y="482" width="1" height="2"/><rect x="450" y="480" width="1" height="2"/><rect x="474" y="391" width="1" height="2"/><rect x="476" y="400" width="1" height="1"/><rect x="443" y="495" width="1" height="1"/><rect x="445" y="475" width="1" height="2"/><rect x="450" y="418" width="2" height="1"/><rect x="435" y="465" width="1" height="1"/><rect x="441" y="454" width="1" height="2"/><rect x="441" y="438" width="2" height="2"/><rect x="472" y="393" width="1" height="1"/><rect x="435" y="424" width="1" height="1"/><rect x="517" y="374" width="1" height="2"/><rect x="440" y="435" width="2" height="2"/><rect x="506" y="383" width="2" height="2"/><rect x="431" y="447" width="2" height="2"/><rect x="457" y="401" width="2" height="1"/><rect x="478" y="397" width="2" height="1"/><rect x="466" y="403" width="1" height="2"/><rect x="443" y="418" width="1" height="1"/><rect x="505" y="379" width="2" height="1"/><rect x="439" y="471" width="2" height="2"/><rect x="501" y="386" width="2" height="1"/><rect x="446" y="472" width="2" height="2"/><rect x="446" y="425" width="2" height="1"/><rect x="443" y="417" width="2" height="1"/><rect x="453" y="415" width="1" height="1"/><rect x="440" y="465" width="2" height="1"/><rect x="440" y="444" width="2" height="2"/><rect x="443" y="465" width="1" height="1"/><rect x="444" y="425" width="1" height="2"/><rect x="491" y="386" width="2" height="1"/><rect x="511" y="371" width="1" height="1"/></g>
<g fill="#8B0000" shape-rendering="crispEdges"><rect x="526" y="338" width="2" height="2"/><rect x="513" y="370" width="2" height="1"/><rect x="514" y="351" width="2" height="2"/><rect x="519" y="340" width="2" height="2"/><rect x="520" y="335" width="1" height="2"/><rect x="520" y="369" width="1" height="2"/><rect x="523" y="340" width="1" height="2"/><rect x="528" y="323" width="1" height="2"/><rect x="505" y="366" width="1" height="1"/><rect x="526" y="331" width="1" height="1"/><rect x="524" y="327" width="1" height="1"/><rect x="523" y="349" width="2" height="1"/><rect x="529" y="337" width="1" height="1"/><rect x="522" y="349" width="1" height="2"/><rect x="516" y="359" width="2" height="2"/><rect x="513" y="352" width="2" height="1"/><rect x="530" y="334" width="2" height="2"/><rect x="525" y="336" width="1" height="1"/><rect x="530" y="335" width="1" height="1"/><rect x="517" y="334" width="1" height="2"/><rect x="526" y="343" width="1" height="2"/><rect x="522" y="361" width="2" height="1"/><rect x="531" y="331" width="2" height="2"/><rect x="524" y="357" width="1" height="2"/><rect x="516" y="368" width="2" height="1"/><rect x="530" y="336" width="2" height="2"/><rect x="521" y="361" width="2" height="1"/><rect x="514" y="351" width="1" height="1"/><rect x="512" y="359" width="2" height="1"/><rect x="513" y="345" width="2" height="1"/><rect x="520" y="358" width="1" height="2"/><rect x="523" y="360" width="2" height="2"/><rect x="522" y="346" width="1" height="2"/><rect x="515" y="365" width="2" height="1"/><rect x="510" y="361" width="2" height="2"/><rect x="521" y="367" width="2" height="2"/><rect x="516" y="367" width="2" height="1"/><rect x="519" y="363" width="1" height="2"/><rect x="513" y="350" width="2" height="2"/><rect x="518" y="347" width="1" height="1"/><rect x="516" y="371" width="2" height="1"/><rect x="525" y="348" width="2" height="1"/><rect x="517" y="361" width="2" height="2"/><rect x="527" y="336" width="2" height="1"/><rect x="530" y="329" width="1" height="2"/><rect x="526" y="342" width="1" height="1"/><rect x="511" y="356" width="2" height="2"/><rect x="518" y="334" width="1" height="2"/><rect x="521" y="332" width="1" height="1"/><rect x="529" y="326" width="2" height="2"/><rect x="526" y="327" width="2" height="1"/><rect x="521" y="333" width="2" height="2"/><rect x="533" y="332" width="1" height="2"/><rect x="522" y="363" width="2" height="2"/><rect x="519" y="340" width="2" height="2"/><rect x="526" y="324" width="2" height="2"/><rect x="518" y="358" width="1" height="2"/><rect x="518" y="373" width="2" height="2"/><rect x="523" y="359" width="2" height="1"/><rect x="518" y="369" width="2" height="2"/><rect x="513" y="365" width="1" height="1"/><rect x="531" y="330" width="2" height="2"/><rect x="521" y="355" width="2" height="1"/><rect x="529" y="335" width="1" height="2"/><rect x="515" y="352" width="1" height="2"/><rect x="527" y="332" width="2" height="2"/><rect x="514" y="368" width="1" height="2"/><rect x="524" y="344" width="2" height="2"/><rect x="511" y="355" width="2" height="2"/><rect x="517" y="353" width="2" height="1"/><rect x="524" y="360" width="1" height="2"/><rect x="526" y="348" width="2" height="1"/><rect x="527" y="338" width="2" height="2"/><rect x="522" y="335" width="2" height="2"/><rect x="523" y="362" width="2" height="1"/><rect x="517" y="365" width="2" height="1"/><rect x="523" y="360" width="2" height="2"/><rect x="521" y="365" width="1" height="2"/><rect x="519" y="368" width="2" height="1"/><rect x="512" y="360" width="2" height="2"/><rect x="523" y="360" width="2" height="2"/><rect x="526" y="339" width="2" height="1"/><rect x="525" y="344" width="2" height="2"/><rect x="512" y="355" width="1" height="2"/><rect x="521" y="337" width="1" height="1"/><rect x="514" y="340" width="2" height="1"/><rect x="527" y="326" width="2" height="1"/><rect x="512" y="360" width="2" height="2"/><rect x="518" y="367" width="2" height="2"/><rect x="521" y="341" width="1" height="2"/><rect x="519" y="334" width="2" height="2"/><rect x="523" y="325" width="2" height="2"/><rect x="514" y="364" width="1" height="1"/><rect x="516" y="345" width="1" height="1"/><rect x="515" y="338" width="2" height="1"/><rect x="527" y="335" width="1" height="1"/><rect x="516" y="370" width="1" height="2"/><rect x="519" y="368" width="1" height="2"/><rect x="513" y="363" width="2" height="2"/><rect x="510" y="368" width="1" height="1"/><rect x="518" y="344" width="2" height="2"/><rect x="512" y="362" width="2" height="1"/><rect x="534" y="330" width="2" height="2"/><rect x="524" y="340" width="1" height="1"/><rect x="515" y="361" width="1" height="2"/><rect x="521" y="365" width="2" height="2"/><rect x="525" y="323" width="1" height="1"/><rect x="508" y="368" width="1" height="1"/><rect x="516" y="363" width="1" height="1"/><rect x="513" y="355" width="1" height="1"/><rect x="513" y="363" width="2" height="2"/><rect x="515" y="351" width="2" height="2"/><rect x="521" y="365" width="2" height="2"/><rect x="532" y="328" width="2" height="2"/><rect x="520" y="368" width="1" height="1"/><rect x="521" y="332" width="2" height="2"/><rect x="517" y="370" width="2" height="2"/><rect x="522" y="364" width="1" height="2"/><rect x="520" y="368" width="2" height="2"/><rect x="525" y="354" width="2" height="1"/><rect x="519" y="340" width="2" height="2"/><rect x="511" y="361" width="1" height="2"/><rect x="520" y="364" width="2" height="2"/><rect x="519" y="372" width="1" height="1"/><rect x="510" y="361" width="2" height="2"/><rect x="531" y="331" width="2" height="1"/><rect x="528" y="325" width="1" height="2"/><rect x="512" y="365" width="1" height="2"/><rect x="516" y="347" width="2" height="2"/><rect x="519" y="370" width="1" height="1"/></g>
<g fill="#8B0000" shape-rendering="crispEdges"><rect x="559" y="278" width="1" height="1"/><rect x="551" y="279" width="1" height="1"/><rect x="536" y="296" width="1" height="1"/><rect x="535" y="294" width="1" height="1"/><rect x="560" y="276" width="1" height="1"/><rect x="540" y="281" width="1" height="1"/><rect x="557" y="274" width="1" height="1"/><rect x="552" y="274" width="1" height="1"/><rect x="533" y="286" width="1" height="1"/><rect x="539" y="317" width="1" height="1"/><rect x="560" y="267" width="1" height="1"/><rect x="540" y="323" width="1" height="1"/><rect x="557" y="272" width="1" height="1"/><rect x="533" y="299" width="1" height="1"/><rect x="540" y="279" width="1" height="1"/><rect x="552" y="272" width="1" height="1"/><rect x="541" y="324" width="1" height="1"/><rect x="554" y="275" width="1" height="1"/><rect x="542" y="321" width="1" height="1"/><rect x="545" y="278" width="1" height="1"/><rect x="538" y="319" width="1" height="1"/><rect x="570" y="262" width="1" height="1"/><rect x="535" y="300" width="1" height="1"/><rect x="570" y="265" width="1" height="1"/><rect x="563" y="268" width="1" height="1"/><rect x="569" y="268" width="1" height="1"/><rect x="537" y="313" width="1" height="1"/><rect x="536" y="307" width="1" height="1"/><rect x="531" y="295" width="1" height="1"/><rect x="540" y="282" width="1" height="1"/><rect x="560" y="276" width="1" height="1"/><rect x="550" y="277" width="1" height="1"/><rect x="537" y="305" width="1" height="1"/><rect x="537" y="317" width="1" height="1"/><rect x="536" y="315" width="1" height="1"/><rect x="539" y="319" width="1" height="1"/><rect x="567" y="271" width="1" height="1"/><rect x="566" y="270" width="1" height="1"/><rect x="558" y="278" width="1" height="1"/><rect x="536" y="295" width="1" height="1"/><rect x="550" y="277" width="1" height="1"/><rect x="535" y="305" width="1" height="1"/><rect x="569" y="263" width="1" height="1"/><rect x="534" y="305" width="1" height="1"/><rect x="536" y="288" width="1" height="1"/><rect x="531" y="292" width="1" height="1"/><rect x="534" y="280" width="1" height="1"/><rect x="565" y="272" width="1" height="1"/><rect x="534" y="298" width="1" height="1"/><rect x="531" y="311" width="1" height="1"/><rect x="542" y="277" width="1" height="1"/><rect x="536" y="313" width="1" height="1"/><rect x="537" y="305" width="1" height="1"/><rect x="551" y="274" width="1" height="1"/><rect x="544" y="318" width="1" height="1"/><rect x="569" y="261" width="1" height="1"/><rect x="550" y="277" width="1" height="1"/><rect x="559" y="270" width="1" height="1"/><rect x="545" y="281" width="1" height="1"/><rect x="539" y="279" width="1" height="1"/><rect x="551" y="274" width="1" height="1"/><rect x="551" y="280" width="1" height="1"/><rect x="572" y="265" width="1" height="1"/><rect x="558" y="277" width="1" height="1"/><rect x="535" y="307" width="1" height="1"/><rect x="541" y="318" width="1" height="1"/><rect x="536" y="288" width="1" height="1"/><rect x="529" y="295" width="1" height="1"/><rect x="554" y="272" width="1" height="1"/><rect x="562" y="272" width="1" height="1"/></g>
<g fill="#8B0000" shape-rendering="crispEdges"><rect x="546" y="293" width="1" height="1"/><rect x="547" y="294" width="1" height="1"/><rect x="550" y="304" width="2" height="1"/><rect x="547" y="296" width="1" height="1"/><rect x="544" y="294" width="1" height="1"/><rect x="549" y="294" width="1" height="1"/><rect x="551" y="302" width="1" height="1"/><rect x="549" y="301" width="1" height="1"/><rect x="548" y="294" width="1" height="1"/><rect x="549" y="299" width="1" height="1"/><rect x="548" y="300" width="1" height="1"/><rect x="546" y="292" width="1" height="1"/><rect x="551" y="297" width="1" height="1"/><rect x="545" y="295" width="1" height="2"/><rect x="549" y="302" width="1" height="1"/><rect x="544" y="294" width="2" height="1"/><rect x="547" y="298" width="1" height="1"/><rect x="550" y="300" width="1" height="1"/><rect x="547" y="298" width="1" height="1"/><rect x="551" y="299" width="2" height="2"/><rect x="548" y="300" width="1" height="1"/><rect x="553" y="301" width="1" height="1"/><rect x="547" y="293" width="1" height="1"/><rect x="548" y="292" width="1" height="1"/><rect x="544" y="295" width="1" height="1"/></g>
<g fill="#8B0000" shape-rendering="crispEdges"><rect x="136" y="520" width="1" height="1"/><rect x="245" y="464" width="2" height="2"/><rect x="163" y="475" width="1" height="1"/><rect x="206" y="463" width="1" height="1"/><rect x="149" y="495" width="2" height="1"/><rect x="226" y="461" width="1" height="1"/><rect x="156" y="482" width="1" height="1"/><rect x="184" y="463" width="1" height="1"/><rect x="143" y="506" width="1" height="1"/><rect x="137" y="511" width="1" height="1"/><rect x="138" y="509" width="1" height="1"/><rect x="219" y="459" width="1" height="1"/><rect x="175" y="473" width="1" height="1"/><rect x="230" y="462" width="1" height="1"/><rect x="131" y="541" width="1" height="1"/><rect x="212" y="456" width="1" height="1"/><rect x="149" y="497" width="1" height="1"/><rect x="207" y="462" width="1" height="2"/><rect x="145" y="498" width="2" height="1"/><rect x="143" y="496" width="1" height="1"/><rect x="172" y="475" width="1" height="1"/><rect x="151" y="492" width="1" height="2"/><rect x="133" y="544" width="1" height="1"/><rect x="171" y="471" width="1" height="1"/><rect x="217" y="460" width="1" height="1"/><rect x="201" y="457" width="1" height="1"/><rect x="138" y="519" width="1" height="2"/><rect x="250" y="461" width="2" height="1"/><rect x="209" y="457" width="1" height="1"/><rect x="168" y="473" width="1" height="2"/><rect x="179" y="473" width="1" height="1"/><rect x="143" y="507" width="1" height="1"/><rect x="134" y="549" width="1" height="1"/><rect x="172" y="477" width="1" height="1"/><rect x="203" y="459" width="1" height="1"/><rect x="238" y="463" width="1" height="1"/><rect x="215" y="457" width="1" height="2"/><rect x="145" y="493" width="1" height="1"/><rect x="186" y="467" width="1" height="1"/><rect x="145" y="497" width="1" height="2"/><rect x="165" y="473" width="1" height="1"/><rect x="140" y="522" width="1" height="1"/><rect x="159" y="484" width="1" height="1"/><rect x="181" y="472" width="1" height="1"/><rect x="237" y="462" width="1" height="1"/><rect x="205" y="456" width="1" height="1"/><rect x="181" y="467" width="1" height="1"/><rect x="141" y="520" width="1" height="1"/><rect x="166" y="478" width="1" height="1"/><rect x="239" y="460" width="1" height="1"/><rect x="214" y="460" width="1" height="2"/><rect x="175" y="474" width="1" height="1"/><rect x="135" y="547" width="1" height="1"/><rect x="136" y="541" width="2" height="2"/><rect x="174" y="469" width="1" height="1"/><rect x="207" y="457" width="1" height="1"/><rect x="180" y="463" width="1" height="1"/><rect x="201" y="460" width="1" height="1"/><rect x="194" y="458" width="1" height="1"/><rect x="143" y="509" width="1" height="1"/><rect x="140" y="520" width="1" height="1"/><rect x="197" y="464" width="1" height="1"/><rect x="230" y="459" width="2" height="1"/><rect x="236" y="460" width="1" height="1"/><rect x="131" y="548" width="1" height="1"/><rect x="156" y="484" width="1" height="2"/><rect x="243" y="458" width="1" height="1"/><rect x="235" y="459" width="2" height="1"/><rect x="144" y="496" width="1" height="1"/><rect x="168" y="478" width="2" height="1"/><rect x="135" y="525" width="1" height="1"/><rect x="239" y="463" width="1" height="1"/><rect x="229" y="460" width="1" height="1"/><rect x="136" y="533" width="1" height="1"/><rect x="149" y="487" width="1" height="1"/><rect x="217" y="456" width="1" height="2"/><rect x="166" y="480" width="1" height="1"/><rect x="248" y="461" width="1" height="1"/><rect x="138" y="508" width="1" height="1"/><rect x="232" y="463" width="1" height="1"/><rect x="145" y="491" width="1" height="1"/><rect x="138" y="518" width="2" height="1"/><rect x="215" y="460" width="2" height="1"/><rect x="246" y="460" width="1" height="1"/><rect x="132" y="533" width="1" height="1"/><rect x="163" y="477" width="1" height="1"/><rect x="177" y="471" width="1" height="1"/><rect x="143" y="506" width="1" height="1"/><rect x="232" y="462" width="1" height="1"/><rect x="245" y="462" width="1" height="1"/><rect x="138" y="529" width="2" height="1"/><rect x="147" y="489" width="1" height="1"/><rect x="149" y="491" width="1" height="2"/><rect x="137" y="539" width="1" height="1"/><rect x="224" y="458" width="2" height="1"/><rect x="202" y="463" width="2" height="1"/><rect x="180" y="472" width="1" height="1"/><rect x="135" y="548" width="1" height="2"/><rect x="139" y="504" width="2" height="1"/><rect x="200" y="464" width="1" height="1"/><rect x="144" y="506" width="2" height="2"/><rect x="249" y="461" width="1" height="1"/><rect x="146" y="489" width="1" height="1"/><rect x="180" y="466" width="1" height="1"/><rect x="156" y="484" width="1" height="1"/><rect x="210" y="461" width="1" height="1"/><rect x="154" y="488" width="1" height="1"/><rect x="162" y="480" width="1" height="1"/><rect x="136" y="536" width="1" height="1"/><rect x="168" y="471" width="1" height="1"/><rect x="235" y="459" width="1" height="1"/><rect x="225" y="458" width="1" height="1"/><rect x="149" y="496" width="1" height="1"/><rect x="195" y="462" width="2" height="1"/><rect x="140" y="512" width="1" height="2"/><rect x="149" y="495" width="1" height="1"/><rect x="160" y="484" width="2" height="2"/><rect x="136" y="533" width="1" height="1"/><rect x="218" y="460" width="1" height="1"/><rect x="168" y="479" width="1" height="2"/><rect x="133" y="541" width="1" height="1"/><rect x="180" y="467" width="1" height="1"/><rect x="138" y="502" width="1" height="1"/><rect x="228" y="459" width="1" height="1"/><rect x="151" y="487" width="1" height="1"/><rect x="250" y="464" width="1" height="1"/><rect x="246" y="461" width="1" height="1"/><rect x="167" y="478" width="1" height="1"/><rect x="142" y="504" width="1" height="1"/><rect x="174" y="475" width="1" height="1"/><rect x="137" y="507" width="1" height="1"/><rect x="201" y="459" width="1" height="1"/><rect x="150" y="492" width="1" height="1"/><rect x="138" y="510" width="1" height="1"/><rect x="144" y="505" width="2" height="1"/><rect x="195" y="458" width="1" height="1"/><rect x="215" y="456" width="1" height="1"/><rect x="202" y="458" width="1" height="1"/><rect x="141" y="495" width="1" height="2"/><rect x="226" y="461" width="1" height="1"/><rect x="212" y="461" width="1" height="1"/><rect x="183" y="469" width="1" height="1"/><rect x="150" y="488" width="1" height="1"/><rect x="132" y="546" width="1" height="1"/><rect x="235" y="462" width="1" height="1"/><rect x="146" y="495" width="1" height="1"/><rect x="146" y="499" width="1" height="2"/><rect x="137" y="509" width="1" height="1"/><rect x="215" y="456" width="1" height="2"/><rect x="135" y="541" width="1" height="1"/></g>
<g fill="#8B0000" shape-rendering="crispEdges"><rect x="296" y="448" width="1" height="2"/><rect x="283" y="450" width="1" height="1"/><rect x="250" y="445" width="1" height="1"/><rect x="314" y="446" width="1" height="1"/><rect x="277" y="453" width="1" height="1"/><rect x="304" y="445" width="2" height="1"/><rect x="254" y="445" width="1" height="2"/><rect x="274" y="456" width="1" height="1"/><rect x="309" y="445" width="1" height="2"/><rect x="285" y="451" width="1" height="1"/><rect x="343" y="447" width="1" height="1"/><rect x="259" y="450" width="1" height="1"/><rect x="303" y="447" width="1" height="1"/><rect x="288" y="450" width="1" height="1"/><rect x="304" y="444" width="1" height="2"/><rect x="297" y="446" width="2" height="2"/><rect x="308" y="447" width="2" height="2"/><rect x="317" y="448" width="2" height="1"/><rect x="241" y="443" width="1" height="1"/><rect x="332" y="449" width="1" height="1"/><rect x="247" y="445" width="1" height="1"/><rect x="269" y="453" width="2" height="1"/><rect x="325" y="449" width="2" height="1"/><rect x="253" y="442" width="2" height="1"/><rect x="314" y="447" width="1" height="2"/><rect x="268" y="454" width="1" height="1"/><rect x="262" y="455" width="1" height="1"/><rect x="242" y="444" width="1" height="1"/><rect x="274" y="454" width="1" height="1"/><rect x="338" y="448" width="1" height="1"/><rect x="274" y="453" width="1" height="1"/><rect x="278" y="454" width="1" height="2"/><rect x="265" y="453" width="1" height="1"/><rect x="322" y="449" width="1" height="2"/><rect x="285" y="452" width="1" height="1"/><rect x="292" y="451" width="1" height="1"/><rect x="259" y="451" width="1" height="1"/><rect x="290" y="449" width="1" height="1"/><rect x="321" y="447" width="2" height="1"/><rect x="316" y="448" width="1" height="1"/><rect x="247" y="443" width="1" height="2"/><rect x="254" y="443" width="1" height="1"/><rect x="264" y="456" width="1" height="1"/><rect x="277" y="452" width="1" height="1"/><rect x="273" y="457" width="2" height="1"/><rect x="243" y="444" width="1" height="1"/><rect x="247" y="441" width="1" height="2"/><rect x="328" y="448" width="2" height="1"/><rect x="309" y="446" width="1" height="1"/><rect x="332" y="450" width="2" height="1"/><rect x="306" y="445" width="1" height="1"/><rect x="315" y="446" width="1" height="1"/><rect x="242" y="446" width="1" height="1"/><rect x="310" y="447" width="1" height="2"/><rect x="254" y="445" width="1" height="1"/><rect x="277" y="456" width="1" height="1"/><rect x="294" y="450" width="1" height="1"/><rect x="344" y="449" width="1" height="2"/><rect x="267" y="457" width="2" height="1"/><rect x="284" y="452" width="1" height="1"/><rect x="340" y="446" width="1" height="1"/><rect x="284" y="451" width="1" height="1"/><rect x="339" y="450" width="1" height="1"/><rect x="254" y="447" width="1" height="1"/><rect x="250" y="444" width="2" height="1"/><rect x="265" y="455" width="2" height="1"/><rect x="341" y="449" width="1" height="1"/><rect x="313" y="446" width="1" height="1"/><rect x="285" y="454" width="1" height="1"/><rect x="249" y="441" width="1" height="1"/></g>
<polygon points="246.2,440.0 248.8,439.0 250.5,442.5 248.0,444.5" fill="#8B0000" />
<g fill="#8B0000" shape-rendering="crispEdges"><rect x="610" y="243" width="1" height="1"/><rect x="634" y="227" width="1" height="1"/><rect x="620" y="245" width="1" height="1"/><rect x="577" y="253" width="1" height="1"/><rect x="607" y="244" width="1" height="1"/><rect x="621" y="242" width="1" height="1"/><rect x="605" y="247" width="1" height="1"/><rect x="616" y="244" width="1" height="1"/><rect x="637" y="226" width="1" height="1"/><rect x="633" y="229" width="1" height="1"/><rect x="597" y="249" width="1" height="1"/><rect x="586" y="252" width="1" height="1"/><rect x="584" y="250" width="1" height="1"/><rect x="596" y="249" width="1" height="1"/><rect x="574" y="257" width="1" height="1"/><rect x="592" y="251" width="1" height="1"/><rect x="592" y="250" width="1" height="1"/><rect x="581" y="249" width="1" height="1"/><rect x="614" y="242" width="1" height="1"/><rect x="587" y="249" width="1" height="1"/><rect x="633" y="231" width="1" height="1"/><rect x="581" y="255" width="1" height="1"/><rect x="633" y="230" width="1" height="1"/><rect x="580" y="253" width="1" height="1"/><rect x="583" y="253" width="1" height="1"/><rect x="606" y="243" width="1" height="1"/><rect x="579" y="256" width="1" height="1"/><rect x="604" y="244" width="1" height="1"/><rect x="610" y="246" width="1" height="1"/><rect x="638" y="226" width="1" height="1"/></g>
<g fill="#8B0000" shape-rendering="crispEdges"><rect x="645" y="204" width="1" height="1"/><rect x="654" y="199" width="1" height="1"/><rect x="652" y="200" width="1" height="1"/><rect x="666" y="195" width="1" height="1"/><rect x="665" y="196" width="1" height="1"/><rect x="667" y="193" width="1" height="1"/><rect x="664" y="195" width="1" height="1"/><rect x="671" y="191" width="1" height="1"/><rect x="662" y="194" width="1" height="1"/><rect x="660" y="194" width="1" height="1"/><rect x="666" y="196" width="1" height="1"/><rect x="639" y="215" width="1" height="1"/><rect x="672" y="189" width="1" height="1"/><rect x="642" y="208" width="1" height="1"/><rect x="635" y="226" width="1" height="1"/><rect x="645" y="205" width="1" height="1"/><rect x="638" y="220" width="1" height="1"/><rect x="650" y="202" width="1" height="1"/><rect x="667" y="196" width="1" height="1"/><rect x="664" y="195" width="1" height="1"/><rect x="668" y="193" width="1" height="1"/><rect x="653" y="200" width="1" height="1"/><rect x="671" y="194" width="1" height="1"/><rect x="664" y="196" width="1" height="1"/><rect x="667" y="195" width="1" height="1"/></g>
<g fill="#fff" shape-rendering="crispEdges"><rect x="664" y="195" width="1" height="1"/><rect x="688" y="186" width="1" height="1"/><rect x="671" y="192" width="1" height="2"/><rect x="667" y="195" width="2" height="1"/><rect x="674" y="189" width="1" height="1"/><rect x="700" y="183" width="2" height="1"/><rect x="672" y="192" width="1" height="1"/><rect x="704" y="184" width="2" height="1"/><rect x="667" y="195" width="2" height="1"/><rect x="681" y="191" width="2" height="2"/><rect x="701" y="184" width="2" height="2"/><rect x="699" y="185" width="2" height="2"/><rect x="676" y="188" width="1" height="1"/><rect x="670" y="194" width="2" height="1"/><rect x="676" y="189" width="2" height="2"/><rect x="675" y="189" width="1" height="1"/><rect x="704" y="184" width="1" height="2"/><rect x="684" y="188" width="1" height="1"/><rect x="679" y="189" width="1" height="1"/><rect x="674" y="187" width="2" height="1"/><rect x="681" y="190" width="2" height="2"/><rect x="677" y="188" width="1" height="1"/><rect x="687" y="188" width="1" height="2"/><rect x="686" y="188" width="1" height="1"/><rect x="696" y="185" width="2" height="2"/><rect x="688" y="187" width="2" height="2"/><rect x="681" y="190" width="1" height="2"/><rect x="662" y="196" width="2" height="1"/><rect x="670" y="193" width="1" height="2"/><rect x="683" y="188" width="2" height="1"/><rect x="699" y="185" width="2" height="1"/><rect x="670" y="194" width="1" height="1"/><rect x="693" y="186" width="1" height="2"/><rect x="693" y="186" width="2" height="1"/><rect x="682" y="190" width="1" height="1"/><rect x="666" y="196" width="1" height="2"/><rect x="666" y="194" width="1" height="1"/><rect x="671" y="190" width="2" height="2"/><rect x="684" y="190" width="1" height="1"/><rect x="674" y="189" width="1" height="2"/><rect x="674" y="189" width="1" height="1"/><rect x="675" y="188" width="1" height="1"/><rect x="673" y="190" width="1" height="2"/><rect x="694" y="185" width="1" height="2"/><rect x="686" y="189" width="1" height="2"/><rect x="671" y="192" width="1" height="2"/><rect x="670" y="194" width="1" height="2"/><rect x="663" y="196" width="1" height="1"/><rect x="695" y="187" width="1" height="1"/><rect x="693" y="186" width="1" height="2"/><rect x="673" y="187" width="1" height="2"/><rect x="667" y="194" width="2" height="1"/><rect x="703" y="185" width="1" height="2"/><rect x="677" y="190" width="1" height="2"/><rect x="680" y="190" width="1" height="1"/><rect x="665" y="194" width="2" height="2"/><rect x="703" y="185" width="2" height="1"/><rect x="701" y="185" width="1" height="1"/><rect x="700" y="184" width="2" height="2"/><rect x="671" y="194" width="1" height="1"/></g>
<g fill="#fff" shape-rendering="crispEdges"><rect x="734" y="203" width="1" height="2"/><rect x="728" y="197" width="1" height="1"/><rect x="736" y="205" width="2" height="1"/><rect x="747" y="198" width="1" height="1"/><rect x="738" y="202" width="2" height="1"/><rect x="724" y="195" width="1" height="1"/><rect x="749" y="197" width="2" height="2"/><rect x="731" y="202" width="1" height="2"/><rect x="728" y="199" width="2" height="1"/><rect x="729" y="200" width="1" height="2"/><rect x="737" y="204" width="1" height="1"/><rect x="736" y="204" width="1" height="1"/><rect x="734" y="204" width="1" height="1"/><rect x="750" y="197" width="1" height="1"/><rect x="739" y="202" width="2" height="2"/><rect x="731" y="201" width="2" height="2"/><rect x="730" y="201" width="1" height="1"/><rect x="730" y="200" width="1" height="1"/><rect x="750" y="195" width="1" height="2"/><rect x="727" y="196" width="2" height="2"/><rect x="740" y="203" width="1" height="2"/><rect x="743" y="201" width="1" height="1"/><rect x="735" y="203" width="1" height="2"/><rect x="750" y="196" width="1" height="1"/><rect x="740" y="202" width="1" height="1"/><rect x="732" y="202" width="1" height="1"/><rect x="731" y="201" width="1" height="2"/><rect x="727" y="199" width="1" height="1"/><rect x="744" y="200" width="2" height="2"/><rect x="734" y="203" width="1" height="1"/></g>
<g fill="#FFD000" shape-rendering="crispEdges"><rect x="263" y="462" width="1" height="2"/><rect x="267" y="461" width="1" height="2"/><rect x="271" y="464" width="1" height="1"/><rect x="257" y="455" width="1" height="1"/><rect x="259" y="460" width="2" height="2"/><rect x="276" y="465" width="1" height="2"/><rect x="285" y="465" width="2" height="2"/><rect x="262" y="461" width="2" height="1"/><rect x="277" y="465" width="1" height="1"/><rect x="285" y="463" width="1" height="1"/><rect x="249" y="453" width="1" height="1"/><rect x="267" y="458" width="2" height="2"/><rect x="270" y="463" width="1" height="1"/><rect x="270" y="463" width="2" height="1"/><rect x="247" y="454" width="1" height="2"/><rect x="282" y="467" width="2" height="1"/><rect x="279" y="462" width="2" height="1"/><rect x="252" y="458" width="1" height="2"/><rect x="272" y="463" width="1" height="2"/><rect x="289" y="464" width="2" height="2"/><rect x="250" y="458" width="1" height="1"/><rect x="271" y="464" width="2" height="2"/><rect x="261" y="461" width="1" height="1"/><rect x="253" y="455" width="1" height="1"/><rect x="271" y="461" width="2" height="1"/><rect x="288" y="465" width="1" height="2"/><rect x="283" y="466" width="2" height="1"/><rect x="284" y="466" width="1" height="2"/><rect x="250" y="453" width="2" height="2"/><rect x="285" y="464" width="1" height="1"/><rect x="283" y="467" width="1" height="2"/><rect x="289" y="466" width="1" height="2"/><rect x="283" y="465" width="1" height="2"/><rect x="264" y="458" width="2" height="2"/><rect x="271" y="460" width="2" height="1"/><rect x="286" y="468" width="2" height="1"/><rect x="293" y="469" width="1" height="2"/><rect x="261" y="460" width="2" height="2"/><rect x="272" y="463" width="1" height="2"/><rect x="292" y="467" width="1" height="1"/><rect x="252" y="457" width="2" height="1"/><rect x="256" y="459" width="2" height="1"/><rect x="278" y="464" width="2" height="2"/><rect x="280" y="465" width="1" height="1"/><rect x="275" y="465" width="2" height="2"/><rect x="268" y="463" width="2" height="1"/><rect x="245" y="457" width="1" height="2"/><rect x="263" y="457" width="1" height="2"/><rect x="274" y="461" width="2" height="2"/><rect x="290" y="470" width="2" height="2"/><rect x="258" y="459" width="2" height="1"/><rect x="274" y="461" width="1" height="2"/><rect x="247" y="456" width="1" height="2"/><rect x="258" y="456" width="2" height="1"/><rect x="278" y="465" width="2" height="2"/><rect x="268" y="460" width="2" height="1"/><rect x="271" y="459" width="2" height="1"/><rect x="273" y="461" width="1" height="2"/><rect x="273" y="464" width="1" height="1"/><rect x="273" y="463" width="2" height="1"/></g>
<g fill="#FFA400" shape-rendering="crispEdges"><rect x="259" y="457" width="1" height="1"/><rect x="282" y="464" width="1" height="1"/><rect x="274" y="460" width="2" height="1"/><rect x="257" y="458" width="1" height="1"/><rect x="253" y="457" width="2" height="1"/><rect x="250" y="456" width="1" height="2"/><rect x="277" y="465" width="2" height="1"/><rect x="269" y="461" width="1" height="1"/><rect x="273" y="460" width="1" height="1"/><rect x="276" y="463" width="2" height="1"/><rect x="291" y="469" width="1" height="1"/><rect x="292" y="471" width="2" height="2"/><rect x="290" y="467" width="1" height="1"/><rect x="247" y="456" width="2" height="1"/><rect x="291" y="470" width="1" height="2"/><rect x="245" y="457" width="1" height="1"/><rect x="261" y="458" width="2" height="1"/><rect x="270" y="463" width="2" height="2"/><rect x="281" y="463" width="2" height="2"/><rect x="275" y="465" width="1" height="1"/><rect x="261" y="461" width="2" height="2"/><rect x="245" y="457" width="2" height="2"/><rect x="283" y="467" width="2" height="2"/><rect x="270" y="463" width="1" height="1"/><rect x="293" y="470" width="1" height="2"/><rect x="284" y="462" width="2" height="1"/><rect x="261" y="460" width="1" height="1"/><rect x="293" y="470" width="2" height="1"/><rect x="266" y="460" width="1" height="2"/><rect x="281" y="465" width="1" height="1"/><rect x="260" y="461" width="2" height="2"/><rect x="257" y="456" width="1" height="1"/><rect x="264" y="462" width="2" height="2"/><rect x="254" y="458" width="1" height="1"/><rect x="269" y="459" width="2" height="2"/><rect x="263" y="462" width="1" height="1"/><rect x="256" y="456" width="1" height="1"/><rect x="258" y="458" width="1" height="1"/><rect x="261" y="460" width="1" height="2"/><rect x="280" y="465" width="2" height="1"/></g>
<g fill="#fff" shape-rendering="crispEdges"><rect x="257" y="454" width="1" height="1"/><rect x="251" y="457" width="2" height="2"/><rect x="263" y="462" width="2" height="2"/><rect x="249" y="454" width="1" height="2"/><rect x="285" y="463" width="1" height="1"/><rect x="277" y="465" width="2" height="1"/><rect x="252" y="458" width="1" height="2"/><rect x="281" y="466" width="1" height="1"/><rect x="249" y="457" width="1" height="1"/><rect x="273" y="463" width="1" height="2"/><rect x="249" y="454" width="1" height="1"/><rect x="291" y="469" width="2" height="2"/><rect x="283" y="465" width="2" height="2"/><rect x="282" y="466" width="1" height="2"/><rect x="257" y="456" width="2" height="2"/><rect x="295" y="465" width="2" height="1"/><rect x="290" y="468" width="1" height="1"/><rect x="260" y="460" width="1" height="1"/><rect x="263" y="459" width="1" height="1"/><rect x="273" y="459" width="1" height="2"/><rect x="269" y="459" width="1" height="1"/><rect x="265" y="461" width="1" height="2"/><rect x="277" y="463" width="1" height="2"/><rect x="271" y="462" width="1" height="2"/><rect x="260" y="455" width="2" height="1"/><rect x="259" y="458" width="1" height="2"/><rect x="249" y="457" width="2" height="1"/><rect x="288" y="468" width="2" height="1"/><rect x="258" y="459" width="1" height="2"/><rect x="273" y="460" width="1" height="1"/></g>
<g fill="#FFF800" shape-rendering="crispEdges"><rect x="192" y="463" width="1" height="2"/><rect x="227" y="461" width="1" height="1"/><rect x="187" y="466" width="1" height="1"/><rect x="215" y="461" width="2" height="2"/><rect x="229" y="462" width="1" height="2"/><rect x="225" y="462" width="2" height="1"/><rect x="185" y="467" width="1" height="1"/><rect x="229" y="462" width="2" height="1"/><rect x="227" y="461" width="1" height="1"/><rect x="184" y="467" width="2" height="1"/><rect x="205" y="462" width="1" height="1"/><rect x="221" y="459" width="1" height="1"/><rect x="212" y="460" width="1" height="2"/><rect x="218" y="461" width="1" height="1"/><rect x="186" y="466" width="1" height="1"/><rect x="228" y="462" width="1" height="2"/><rect x="225" y="460" width="1" height="1"/><rect x="218" y="460" width="1" height="1"/><rect x="185" y="467" width="1" height="2"/><rect x="209" y="462" width="1" height="1"/><rect x="208" y="459" width="1" height="1"/><rect x="203" y="461" width="1" height="1"/><rect x="221" y="460" width="1" height="1"/><rect x="207" y="462" width="1" height="1"/><rect x="223" y="459" width="1" height="1"/><rect x="181" y="466" width="1" height="1"/><rect x="188" y="466" width="1" height="1"/><rect x="190" y="466" width="1" height="2"/><rect x="207" y="460" width="1" height="1"/><rect x="226" y="461" width="1" height="1"/></g>
<g fill="#FFF800" shape-rendering="crispEdges"><rect x="139" y="525" width="1" height="1"/><rect x="141" y="516" width="1" height="1"/><rect x="142" y="509" width="2" height="1"/><rect x="136" y="540" width="1" height="2"/><rect x="135" y="543" width="1" height="2"/><rect x="141" y="516" width="2" height="1"/><rect x="144" y="508" width="1" height="1"/><rect x="139" y="527" width="2" height="2"/><rect x="134" y="544" width="1" height="1"/><rect x="142" y="516" width="2" height="1"/><rect x="137" y="532" width="1" height="1"/><rect x="141" y="515" width="1" height="1"/><rect x="135" y="535" width="1" height="1"/><rect x="138" y="525" width="2" height="1"/><rect x="138" y="525" width="1" height="1"/><rect x="136" y="533" width="2" height="1"/><rect x="137" y="530" width="1" height="2"/><rect x="142" y="507" width="1" height="2"/><rect x="140" y="518" width="2" height="1"/><rect x="140" y="513" width="1" height="1"/><rect x="142" y="508" width="2" height="1"/><rect x="137" y="531" width="1" height="1"/><rect x="141" y="518" width="2" height="1"/><rect x="140" y="524" width="1" height="2"/><rect x="142" y="513" width="1" height="2"/></g>
<g fill="#fff" shape-rendering="crispEdges"><rect x="811" y="166" width="1" height="1"/><rect x="787" y="171" width="1" height="1"/><rect x="803" y="164" width="1" height="2"/><rect x="764" y="176" width="1" height="1"/><rect x="781" y="172" width="2" height="2"/><rect x="804" y="162" width="2" height="2"/><rect x="787" y="169" width="1" height="2"/><rect x="804" y="166" width="1" height="1"/><rect x="738" y="184" width="2" height="1"/><rect x="789" y="171" width="1" height="1"/><rect x="775" y="176" width="2" height="1"/><rect x="736" y="185" width="1" height="1"/><rect x="744" y="187" width="1" height="1"/><rect x="767" y="176" width="1" height="1"/></g>
<g fill="#fff" shape-rendering="crispEdges"><rect x="779" y="185" width="1" height="1"/><rect x="810" y="174" width="1" height="1"/><rect x="789" y="181" width="1" height="1"/><rect x="792" y="179" width="1" height="1"/><rect x="752" y="197" width="2" height="1"/><rect x="756" y="194" width="1" height="1"/><rect x="800" y="177" width="1" height="1"/><rect x="745" y="201" width="1" height="1"/><rect x="797" y="177" width="1" height="1"/><rect x="753" y="196" width="2" height="2"/><rect x="805" y="174" width="1" height="2"/><rect x="805" y="175" width="1" height="1"/><rect x="778" y="186" width="1" height="2"/><rect x="759" y="192" width="1" height="1"/><rect x="779" y="185" width="1" height="2"/><rect x="753" y="197" width="1" height="1"/><rect x="740" y="204" width="1" height="1"/><rect x="811" y="173" width="1" height="1"/><rect x="806" y="175" width="1" height="2"/><rect x="803" y="176" width="1" height="1"/><rect x="794" y="179" width="1" height="1"/><rect x="788" y="182" width="1" height="1"/></g>
<polyline points="626.8,202.5 630.5,205.5" fill="none" stroke="#fff" stroke-width="1.6" stroke-linecap="round"/>
<polyline points="636.5,178.0 638.5,182.0" fill="none" stroke="#fff" stroke-width="1.6" stroke-linecap="round"/>
<polyline points="609.5,224.5 611.5,227.5" fill="none" stroke="#fff" stroke-width="1.6" stroke-linecap="round"/>
<polyline points="659.0,164.5 662.0,167.0" fill="none" stroke="#fff" stroke-width="1.6" stroke-linecap="round"/>
<polyline points="611.5,173.8 612.5,177.5" fill="none" stroke="#fff" stroke-width="1.6" stroke-linecap="round"/>
<polyline points="676.0,165.5 681.0,166.5" fill="none" stroke="#fff" stroke-width="1.6" stroke-linecap="round"/>
<polyline points="696.0,165.0 702.2,166.5" fill="none" stroke="#fff" stroke-width="1.6" stroke-linecap="round"/>
<ellipse cx="217.2" cy="465.9" rx="9" ry="2.3" fill="#80FF80" stroke="#1a3a00" stroke-width="0.3"/>
<polygon points="235.6,467.5 240.3,466.6 245.3,467.2 244.7,469.7 238.8,470.3 235.3,469.4" fill="#80FF80" />
<polygon points="247.3,467.5 251.2,467.2 253.8,468.8 251.2,470.0 247.8,469.1" fill="#80FF80" />
<polygon points="270.0,453.4 274.7,451.9 280.2,452.7 282.8,455.0 279.4,457.3 273.1,457.5 270.0,455.8" fill="#DCFF23" />
<polygon points="251.2,458.1 255.2,457.3 259.8,460.5 263.8,465.2 261.4,467.8 256.7,466.2 252.8,462.0" fill="#FFA400" />
<polygon points="255.2,462.0 259.1,463.6 262.2,466.7 258.3,467.5" fill="#FFD000" />
<polygon points="279.4,460.0 284.1,459.7 285.9,463.6 283.8,466.9 280.2,465.2" fill="#FFA400" />
<polygon points="184.8,465.2 188.8,462.8 191.9,464.1 190.0,467.5 186.4,468.3" fill="#FFF800" />
<polygon points="314.5,451.9 315.6,445.6 317.2,443.8 318.4,445.6 320.0,451.9" fill="#80FF80" />
<polygon points="315.9,442.5 317.8,442.2 318.1,444.4 316.2,444.7" fill="#000" />
<polyline points="277.8,462.0 282.5,466.7 288.8,470.3" fill="none" stroke="#000" stroke-width="0.6" />
<polyline points="282.5,461.2 286.4,467.5" fill="none" stroke="#000" stroke-width="0.6" />
<polyline points="248.9,455.0 252.0,458.9" fill="none" stroke="#000" stroke-width="0.6" />
<polyline points="288.8,468.3 292.7,472.2 295.8,475.6" fill="none" stroke="#fff" stroke-width="1.0" />
<polyline points="291.1,472.2 295.0,471.9" fill="none" stroke="#fff" stroke-width="1.0" />
<polyline points="263.8,474.5 270.0,475.6 276.2,475.3" fill="none" stroke="#fff" stroke-width="1.0" />
<polyline points="289.5,469.1 295.0,475.0" fill="none" stroke="#FFF800" stroke-width="0.6" />
<polygon points="245.8,439.4 248.1,439.1 250.5,442.2 248.9,444.8 246.6,443.8" fill="#8B0000" />
<!-- 60_lines.py -->
<g stroke="#000" stroke-opacity="0.9" stroke-width="0.8" fill="none"><line x1="758.6" y1="162.3" x2="818.5" y2="832"/><line x1="764.1" y1="162.3" x2="825.9" y2="858"/><line x1="780.5" y1="216.3" x2="838" y2="858"/><line x1="806.3" y1="292" x2="840.3" y2="858"/><line x1="813.8" y1="399.2" x2="837.8" y2="800"/><line x1="735.6" y1="382.2" x2="754.1" y2="686.2"/><line x1="740.1" y1="488.1" x2="755.4" y2="686"/><line x1="733.3" y1="553.3" x2="740.9" y2="678.6"/><line x1="749.8" y1="565.5" x2="751.6" y2="585.8"/><line x1="753.6" y1="565.5" x2="755.4" y2="585.8"/><line x1="759.7" y1="566.8" x2="761.2" y2="588.4"/><line x1="776.2" y1="544.7" x2="779.5" y2="598.5"/><line x1="784.6" y1="565.5" x2="805.6" y2="836"/><line x1="795.5" y1="513.5" x2="818.6" y2="800"/><line x1="790.9" y1="578.2" x2="799" y2="700"/><line x1="818.3" y1="547.8" x2="834" y2="780"/><line x1="815" y1="576.2" x2="819.5" y2="640"/><line x1="743.9" y1="653.2" x2="747" y2="691.3"/><line x1="761.7" y1="710.3" x2="765.5" y2="737"/><line x1="770.1" y1="712.8" x2="776.9" y2="818.2"/><line x1="773.1" y1="721.7" x2="779.5" y2="818.2"/><line x1="789.6" y1="714.1" x2="797.3" y2="813.1"/><line x1="793.5" y1="707.8" x2="801.1" y2="808.1"/><line x1="787.1" y1="744.6" x2="792.2" y2="813.1"/><line x1="792.2" y1="610" x2="796.7" y2="836"/><line x1="820.1" y1="789" x2="822.7" y2="828.4"/><line x1="807.4" y1="772.5" x2="808.7" y2="858.9"/><line x1="802.3" y1="610" x2="811.2" y2="787.8"/><line x1="766" y1="700" x2="768.5" y2="730"/><line x1="781" y1="735" x2="784" y2="790"/><line x1="799" y1="640" x2="806" y2="760"/></g>
</g>
<rect x="129.5" y="162.3" width="710.8" height="697.8" fill="none" stroke="#000" stroke-width="1"/>
<line x1="112.2" y1="832.7" x2="129.5" y2="832.7" stroke="#000" stroke-width="1"/>
<text x="98.2" y="840.7" font-size="23" letter-spacing="0.1" text-anchor="end">10°N</text>
<line x1="112.2" y1="739.1" x2="129.5" y2="739.1" stroke="#000" stroke-width="1"/>
<text x="98.2" y="747.1" font-size="23" letter-spacing="0.1" text-anchor="end">15°N</text>
<line x1="112.2" y1="645.5" x2="129.5" y2="645.5" stroke="#000" stroke-width="1"/>
<text x="98.2" y="653.5" font-size="23" letter-spacing="0.1" text-anchor="end">20°N</text>
<line x1="112.2" y1="551.8" x2="129.5" y2="551.8" stroke="#000" stroke-width="1"/>
<text x="98.2" y="559.8" font-size="23" letter-spacing="0.1" text-anchor="end">25°N</text>
<line x1="112.2" y1="458.2" x2="129.5" y2="458.2" stroke="#000" stroke-width="1"/>
<text x="98.2" y="466.2" font-size="23" letter-spacing="0.1" text-anchor="end">30°N</text>
<line x1="112.2" y1="364.6" x2="129.5" y2="364.6" stroke="#000" stroke-width="1"/>
<text x="98.2" y="372.6" font-size="23" letter-spacing="0.1" text-anchor="end">35°N</text>
<line x1="112.2" y1="270.9" x2="129.5" y2="270.9" stroke="#000" stroke-width="1"/>
<text x="98.2" y="278.9" font-size="23" letter-spacing="0.1" text-anchor="end">40°N</text>
<line x1="112.2" y1="177.3" x2="129.5" y2="177.3" stroke="#000" stroke-width="1"/>
<text x="98.2" y="185.3" font-size="23" letter-spacing="0.1" text-anchor="end">45°N</text>
<line x1="185.4" y1="860.15" x2="185.4" y2="876.6" stroke="#000" stroke-width="1"/>
<text x="185.1" y="910.2" font-size="23" text-anchor="middle">95°W</text>
<line x1="279.1" y1="860.15" x2="279.1" y2="876.6" stroke="#000" stroke-width="1"/>
<text x="278.8" y="910.2" font-size="23" text-anchor="middle">90°W</text>
<line x1="372.7" y1="860.15" x2="372.7" y2="876.6" stroke="#000" stroke-width="1"/>
<text x="372.4" y="910.2" font-size="23" text-anchor="middle">85°W</text>
<line x1="466.4" y1="860.15" x2="466.4" y2="876.6" stroke="#000" stroke-width="1"/>
<text x="466.1" y="910.2" font-size="23" text-anchor="middle">80°W</text>
<line x1="560.0" y1="860.15" x2="560.0" y2="876.6" stroke="#000" stroke-width="1"/>
<text x="559.7" y="910.2" font-size="23" text-anchor="middle">75°W</text>
<line x1="653.6" y1="860.15" x2="653.6" y2="876.6" stroke="#000" stroke-width="1"/>
<text x="653.4" y="910.2" font-size="23" text-anchor="middle">70°W</text>
<line x1="747.3" y1="860.15" x2="747.3" y2="876.6" stroke="#000" stroke-width="1"/>
<text x="747.0" y="910.2" font-size="23" text-anchor="middle">65°W</text>
<text x="163.8" y="133.1" font-size="25.6" letter-spacing="0.15">2020110923</text>
<text x="656.6" y="128.6" font-size="25.6">Elevation (m)</text>
<text x="485.0" y="944.5" font-size="23.1" text-anchor="middle">Longitude</text>
<text transform="translate(41.6,511.2) rotate(-90)" font-size="23.1" text-anchor="middle">Latitude</text>
<rect x="878.5" y="821.54" width="42.5" height="31.36" fill="#0000B0"/>
<rect x="878.5" y="790.47" width="42.5" height="31.36" fill="#0000DE"/>
<rect x="878.5" y="759.41" width="42.5" height="31.36" fill="#000CFF"/>
<rect x="878.5" y="728.35" width="42.5" height="31.36" fill="#003AFF"/>
<rect x="878.5" y="697.28" width="42.5" height="31.36" fill="#0068FF"/>
<rect x="878.5" y="666.22" width="42.5" height="31.36" fill="#0096FF"/>
<rect x="878.5" y="635.15" width="42.5" height="31.36" fill="#00C4FF"/>
<rect x="878.5" y="604.09" width="42.5" height="31.36" fill="#00F4FF"/>
<rect x="878.5" y="573.03" width="42.5" height="31.36" fill="#2BFFD4"/>
<rect x="878.5" y="541.96" width="42.5" height="31.36" fill="#55FFAA"/>
<rect x="878.5" y="510.90" width="42.5" height="31.36" fill="#80FF80"/>
<rect x="878.5" y="479.84" width="42.5" height="31.36" fill="#AAFF55"/>
<rect x="878.5" y="448.77" width="42.5" height="31.36" fill="#DCFF23"/>
<rect x="878.5" y="417.71" width="42.5" height="31.36" fill="#FFF800"/>
<rect x="878.5" y="386.65" width="42.5" height="31.36" fill="#FFD000"/>
<rect x="878.5" y="355.58" width="42.5" height="31.36" fill="#FFA400"/>
<rect x="878.5" y="324.52" width="42.5" height="31.36" fill="#FF7600"/>
<rect x="878.5" y="293.45" width="42.5" height="31.36" fill="#FF4800"/>
<rect x="878.5" y="262.39" width="42.5" height="31.36" fill="#FF1A00"/>
<rect x="878.5" y="231.33" width="42.5" height="31.36" fill="#E60000"/>
<rect x="878.5" y="200.26" width="42.5" height="31.36" fill="#B60000"/>
<rect x="878.5" y="169.20" width="42.5" height="31.36" fill="#8B0000"/>
<line x1="878.5" y1="821.54" x2="921.0" y2="821.54" stroke="#000" stroke-width="0.6"/>
<line x1="878.5" y1="790.47" x2="921.0" y2="790.47" stroke="#000" stroke-width="0.6"/>
<line x1="878.5" y1="759.41" x2="921.0" y2="759.41" stroke="#000" stroke-width="0.6"/>
<line x1="878.5" y1="728.35" x2="921.0" y2="728.35" stroke="#000" stroke-width="0.6"/>
<line x1="878.5" y1="697.28" x2="921.0" y2="697.28" stroke="#000" stroke-width="0.6"/>
<line x1="878.5" y1="666.22" x2="921.0" y2="666.22" stroke="#000" stroke-width="0.6"/>
<line x1="878.5" y1="635.15" x2="921.0" y2="635.15" stroke="#000" stroke-width="0.6"/>
<line x1="878.5" y1="604.09" x2="921.0" y2="604.09" stroke="#000" stroke-width="0.6"/>
<line x1="878.5" y1="573.03" x2="921.0" y2="573.03" stroke="#000" stroke-width="0.6"/>
<line x1="878.5" y1="541.96" x2="921.0" y2="541.96" stroke="#000" stroke-width="0.6"/>
<line x1="878.5" y1="510.90" x2="921.0" y2="510.90" stroke="#000" stroke-width="0.6"/>
<line x1="878.5" y1="479.84" x2="921.0" y2="479.84" stroke="#000" stroke-width="0.6"/>
<line x1="878.5" y1="448.77" x2="921.0" y2="448.77" stroke="#000" stroke-width="0.6"/>
<line x1="878.5" y1="417.71" x2="921.0" y2="417.71" stroke="#000" stroke-width="0.6"/>
<line x1="878.5" y1="386.65" x2="921.0" y2="386.65" stroke="#000" stroke-width="0.6"/>
<line x1="878.5" y1="355.58" x2="921.0" y2="355.58" stroke="#000" stroke-width="0.6"/>
<line x1="878.5" y1="324.52" x2="921.0" y2="324.52" stroke="#000" stroke-width="0.6"/>
<line x1="878.5" y1="293.45" x2="921.0" y2="293.45" stroke="#000" stroke-width="0.6"/>
<line x1="878.5" y1="262.39" x2="921.0" y2="262.39" stroke="#000" stroke-width="0.6"/>
<line x1="878.5" y1="231.33" x2="921.0" y2="231.33" stroke="#000" stroke-width="0.6"/>
<line x1="878.5" y1="200.26" x2="921.0" y2="200.26" stroke="#000" stroke-width="0.6"/>
<rect x="878.5" y="169.2" width="42.5" height="683.4" fill="none" stroke="#000" stroke-opacity="0.55" stroke-width="0.8"/>
<text x="960" y="832.7" font-size="31.5" text-anchor="middle">-2</text>
<text x="960" y="770.6" font-size="31.5" text-anchor="middle">-1.6</text>
<text x="960" y="708.5" font-size="31.5" text-anchor="middle">-1.2</text>
<text x="960" y="646.4" font-size="31.5" text-anchor="middle">-0.8</text>
<text x="960" y="584.2" font-size="31.5" text-anchor="middle">-0.4</text>
<text x="960" y="522.1" font-size="31.5" text-anchor="middle">0</text>
<text x="960" y="460.0" font-size="31.5" text-anchor="middle">0.4</text>
<text x="960" y="397.8" font-size="31.5" text-anchor="middle">0.8</text>
<text x="960" y="335.7" font-size="31.5" text-anchor="middle">1.2</text>
<text x="960" y="273.6" font-size="31.5" text-anchor="middle">1.6</text>
<text x="960" y="211.5" font-size="31.5" text-anchor="middle">2</text>
</svg>
</body></html>
